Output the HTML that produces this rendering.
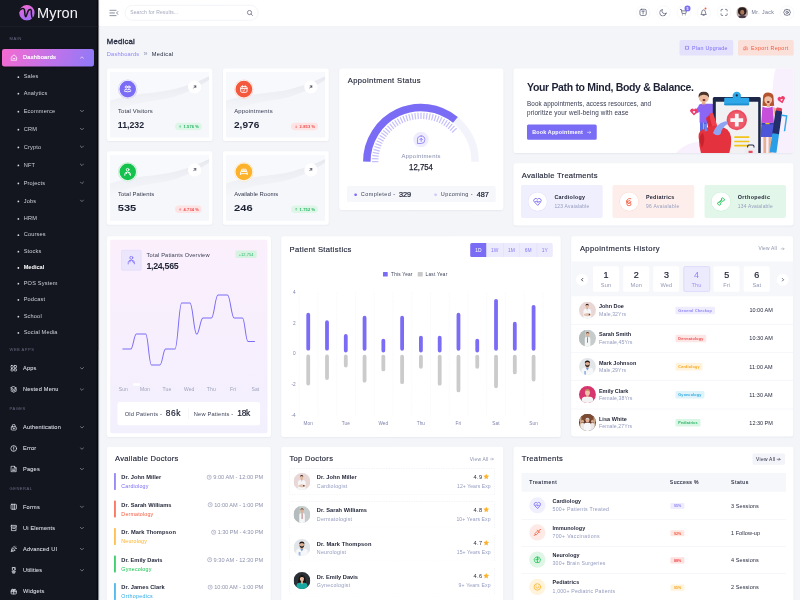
<!DOCTYPE html>
<html lang="en"><head><meta charset="utf-8"><title>Medical Dashboard - Myron</title>
<style>
html,body{margin:0;padding:0;}
body{width:800px;height:600px;overflow:hidden;background:#f3f5f9;font-family:"Liberation Sans",sans-serif;}
#app{position:absolute;left:0;top:0;width:3200px;height:2400px;overflow:hidden;background:#f3f5f9;transform:scale(0.25) rotate(0.004deg);transform-origin:0 0;}
.b{position:absolute;display:block;}
.t{position:absolute;line-height:1;white-space:nowrap;}
</style></head><body><div id="app">
<div class="b" style="left:394px;top:0px;width:2806px;height:106px;background:#ffffff;"></div>
<div class="b" style="left:394px;top:104.8px;width:2806px;height:2px;background:#eceef4;"></div>
<svg class="b" style="left:437.2px;top:37.2px;width:40px;height:29.6px;" viewBox="0 0 10 7.4"><path d="M0.5 1 H6.8 M0.5 3.7 H5.2 M0.5 6.4 H6.8 M8.6 2.3 L7.3 3.7 L8.6 5.1" fill="none" stroke="#4a4f68" stroke-width="0.65" stroke-linecap="round" stroke-linejoin="round"/></svg>
<div class="b" style="left:499.2px;top:20px;width:534.8px;height:61.6px;background:#ffffff;border-radius:32px;border:2px solid #e6e8f0;box-sizing:border-box;"></div>
<span class="t" style="top:39.8px;font-size:20px;color:#a3a8bd;letter-spacing:0.55px;left:520.8px;">Search for Results...</span>
<svg class="b" style="left:986px;top:37.6px;width:28px;height:28px;" viewBox="0 0 7 7"><circle cx="3" cy="3" r="2.1" fill="none" stroke="#4a4f68" stroke-width="0.65"/><path d="M4.6 4.6 L6 6" stroke="#4a4f68" stroke-width="0.65" stroke-linecap="round"/></svg>
<div class="b" style="left:2544.8px;top:21.6px;width:56px;height:56px;background:#ffffff;border-radius:28px;border:2px solid #eef0f5;box-sizing:border-box;"></div>
<svg class="b" style="left:2556.4px;top:33.2px;width:32.8px;height:32.8px;" viewBox="0 0 7 7"><g fill="none" stroke="#4a4f68" stroke-width="0.6" stroke-linecap="round" stroke-linejoin="round"><rect x="0.8" y="0.8" width="5.4" height="5.4" rx="1.4"/><path d="M2.4 2.4 H4.6 M3.5 2.4 V4.8"/></g></svg>
<div class="b" style="left:2625.6px;top:21.6px;width:56px;height:56px;background:#ffffff;border-radius:28px;border:2px solid #eef0f5;box-sizing:border-box;"></div>
<svg class="b" style="left:2637.2px;top:33.2px;width:32.8px;height:32.8px;" viewBox="0 0 7 7"><g fill="none" stroke="#4a4f68" stroke-width="0.6" stroke-linecap="round" stroke-linejoin="round"><path d="M5.9 4.3 A2.8 2.8 0 1 1 2.8 1 A2.3 2.3 0 0 0 5.9 4.3 Z"/></g></svg>
<div class="b" style="left:2706.8px;top:21.6px;width:56px;height:56px;background:#ffffff;border-radius:28px;border:2px solid #eef0f5;box-sizing:border-box;"></div>
<svg class="b" style="left:2718.4px;top:33.2px;width:32.8px;height:32.8px;" viewBox="0 0 7 7"><g fill="none" stroke="#4a4f68" stroke-width="0.6" stroke-linecap="round" stroke-linejoin="round"><path d="M0.7 1 H1.6 L2.2 4.4 H5.4 L5.9 2.2 H2 M2.5 5.6 V5.7 M5 5.6 V5.7"/></g></svg>
<div class="b" style="left:2786.8px;top:21.6px;width:56px;height:56px;background:#ffffff;border-radius:28px;border:2px solid #eef0f5;box-sizing:border-box;"></div>
<svg class="b" style="left:2798.4px;top:33.2px;width:32.8px;height:32.8px;" viewBox="0 0 7 7"><g fill="none" stroke="#4a4f68" stroke-width="0.6" stroke-linecap="round" stroke-linejoin="round"><path d="M1.4 5 Q2 4.3 2 3 A1.5 1.6 0 0 1 5 3 Q5 4.3 5.6 5 Z M3 6 H4"/></g></svg>
<div class="b" style="left:2868px;top:21.6px;width:56px;height:56px;background:#ffffff;border-radius:28px;border:2px solid #eef0f5;box-sizing:border-box;"></div>
<svg class="b" style="left:2879.6px;top:33.2px;width:32.8px;height:32.8px;" viewBox="0 0 7 7"><g fill="none" stroke="#4a4f68" stroke-width="0.6" stroke-linecap="round" stroke-linejoin="round"><path d="M0.9 2.3 V1.6 Q0.9 0.9 1.6 0.9 H2.3 M4.7 0.9 H5.4 Q6.1 0.9 6.1 1.6 V2.3 M6.1 4.7 V5.4 Q6.1 6.1 5.4 6.1 H4.7 M2.3 6.1 H1.6 Q0.9 6.1 0.9 5.4 V4.7"/></g></svg>
<div class="b" style="left:3120px;top:21.6px;width:56px;height:56px;background:#ffffff;border-radius:28px;border:2px solid #eef0f5;box-sizing:border-box;"></div>
<svg class="b" style="left:3131.6px;top:33.2px;width:32.8px;height:32.8px;" viewBox="0 0 7 7"><g fill="none" stroke="#4a4f68" stroke-width="0.6" stroke-linecap="round" stroke-linejoin="round"><circle cx="3.5" cy="3.5" r="1"/><path d="M3.5 0.8 L4.4 1.4 L5.5 1.3 L5.8 2.4 L6.4 3.5 L5.8 4.6 L5.5 5.7 L4.4 5.6 L3.5 6.2 L2.6 5.6 L1.5 5.7 L1.2 4.6 L0.6 3.5 L1.2 2.4 L1.5 1.3 L2.6 1.4 Z"/></g></svg>
<div class="b" style="left:2738.4px;top:21.6px;width:23.2px;height:23.2px;background:#7b6cf6;border-radius:12px;"></div>
<span class="t" style="top:26.2px;font-size:14.4px;color:#ffffff;font-weight:700;left:2350px;width:800px;text-align:center;">5</span>
<div class="b" style="left:2817.6px;top:29.6px;width:8.8px;height:8.8px;background:#f5593d;border-radius:8px;"></div>
<svg class="b" style="left:2944.8px;top:25.6px;width:48px;height:48px;" viewBox="0 0 12 12"><defs><clipPath id="avh"><circle cx="6" cy="6" r="6"/></clipPath></defs>
<g clip-path="url(#avh)"><rect width="12" height="12" fill="#b9a7a2"/><ellipse cx="6" cy="4.6" rx="4.3" ry="3.9" fill="#2a1d1c"/><ellipse cx="6" cy="5.6" rx="2.1" ry="2.5" fill="#a9745a"/><path d="M1.5 12 Q2 8.4 6 8.4 Q10 8.4 10.5 12 Z" fill="#4a3a4a"/></g></svg>
<span class="t" style="top:39.32px;font-size:20.8px;color:#6f7590;letter-spacing:1.67px;left:3006.4px;">Mr. Jack</span>
<div class="b" style="left:0px;top:0px;width:393.2px;height:2400px;background:#14161f;box-shadow:1.6px 0 6.4px rgba(20,22,40,0.35);border-right:6px solid #08090d;box-sizing:border-box;"></div>
<div class="b" style="left:0px;top:104.8px;width:394px;height:2px;background:#23252f;"></div>
<svg class="b" style="left:75.6px;top:19.2px;width:64px;height:64px;" viewBox="0 0 16 16"><defs><linearGradient id="lg" x1="0.3" y1="0" x2="0.6" y2="1"><stop offset="0" stop-color="#f06ad6"/><stop offset="1" stop-color="#a06cf6"/></linearGradient></defs>
<circle cx="7.9" cy="8" r="7.7" fill="url(#lg)"/>
<path d="M-0.2 6.6 C1.4 4 4.6 2.6 5.4 5 C6.1 7.4 5.6 11.6 6.7 11.9 C7.7 12.1 8.4 6.6 9.7 5.4 C11.1 4.1 12.4 4.5 12.4 6.6 C12.4 9 11.7 12 14.2 14.8" fill="none" stroke="#14161f" stroke-width="1.5" stroke-linecap="round"/></svg>
<span class="t" style="top:21.88px;font-size:58.4px;color:#f4f4f8;letter-spacing:0.35px;left:148px;">Myron</span>
<span class="t" style="top:145.8px;font-size:16.4px;color:#666a82;letter-spacing:1.74px;left:38.4px;">MAIN</span>
<div class="b" style="left:8px;top:196px;width:368px;height:70px;background:linear-gradient(112deg,#f56ad0 0%,#d071e2 38%,#b274ee 68%,#8c7bf9 100%);border-radius:8.8px;box-shadow:0 3.2px 6.4px rgba(0,0,0,0.45);"></div>
<svg class="b" style="left:42px;top:216px;width:28px;height:28px;" viewBox="0 0 7 7"><path d="M0.8 3.2 L3.5 0.8 L6.2 3.2 V6.2 H0.8 Z M2.4 4.4 Q3.5 5.3 4.6 4.4" fill="none" stroke="#fff" stroke-width="0.75" stroke-linejoin="round" stroke-linecap="round"/></svg>
<span class="t" style="top:217.4px;font-size:22.8px;color:#ffffff;letter-spacing:1.02px;left:91.6px;-webkit-text-stroke:0.88px #ffffff;">Dashboards</span>
<svg class="b" style="left:319.2px;top:223.2px;width:17.6px;height:14.4px;" viewBox="0 0 4.4 3.6"><path d="M0.6 2.6 L2.2 1 L3.8 2.6" fill="none" stroke="#ffffff" stroke-width="0.6" stroke-linecap="round" stroke-linejoin="round"/></svg>
<div class="b" style="left:69.6px;top:304.8px;width:7.2px;height:7.2px;background:#d5d7e0;border-radius:4px;"></div>
<span class="t" style="top:295.32px;font-size:22.4px;color:#cdd0db;letter-spacing:0.67px;left:94.8px;">Sales</span>
<div class="b" style="left:69.6px;top:370.8px;width:7.2px;height:7.2px;background:#d5d7e0;border-radius:4px;"></div>
<span class="t" style="top:361.32px;font-size:22.4px;color:#cdd0db;letter-spacing:0.6px;left:94.8px;">Analytics</span>
<div class="b" style="left:69.6px;top:442.8px;width:7.2px;height:7.2px;background:#d5d7e0;border-radius:4px;"></div>
<span class="t" style="top:433.32px;font-size:22.4px;color:#cdd0db;letter-spacing:0.8px;left:94.8px;">Ecommerce</span>
<svg class="b" style="left:319.2px;top:436.8px;width:17.6px;height:14.4px;" viewBox="0 0 4.4 3.6"><path d="M0.6 1 L2.2 2.6 L3.8 1" fill="none" stroke="#a9acba" stroke-width="0.6" stroke-linecap="round" stroke-linejoin="round"/></svg>
<div class="b" style="left:69.6px;top:514.8px;width:7.2px;height:7.2px;background:#d5d7e0;border-radius:4px;"></div>
<span class="t" style="top:505.32px;font-size:22.4px;color:#cdd0db;letter-spacing:1.02px;left:94.8px;">CRM</span>
<svg class="b" style="left:319.2px;top:508.8px;width:17.6px;height:14.4px;" viewBox="0 0 4.4 3.6"><path d="M0.6 1 L2.2 2.6 L3.8 1" fill="none" stroke="#a9acba" stroke-width="0.6" stroke-linecap="round" stroke-linejoin="round"/></svg>
<div class="b" style="left:69.6px;top:585.8px;width:7.2px;height:7.2px;background:#d5d7e0;border-radius:4px;"></div>
<span class="t" style="top:576.28px;font-size:22.4px;color:#cdd0db;letter-spacing:0.66px;left:94.8px;">Crypto</span>
<svg class="b" style="left:319.2px;top:579.8px;width:17.6px;height:14.4px;" viewBox="0 0 4.4 3.6"><path d="M0.6 1 L2.2 2.6 L3.8 1" fill="none" stroke="#a9acba" stroke-width="0.6" stroke-linecap="round" stroke-linejoin="round"/></svg>
<div class="b" style="left:69.6px;top:657.8px;width:7.2px;height:7.2px;background:#d5d7e0;border-radius:4px;"></div>
<span class="t" style="top:648.28px;font-size:22.4px;color:#cdd0db;letter-spacing:0.87px;left:94.8px;">NFT</span>
<svg class="b" style="left:319.2px;top:651.8px;width:17.6px;height:14.4px;" viewBox="0 0 4.4 3.6"><path d="M0.6 1 L2.2 2.6 L3.8 1" fill="none" stroke="#a9acba" stroke-width="0.6" stroke-linecap="round" stroke-linejoin="round"/></svg>
<div class="b" style="left:69.6px;top:729.8px;width:7.2px;height:7.2px;background:#d5d7e0;border-radius:4px;"></div>
<span class="t" style="top:720.28px;font-size:22.4px;color:#cdd0db;letter-spacing:0.61px;left:94.8px;">Projects</span>
<svg class="b" style="left:319.2px;top:723.8px;width:17.6px;height:14.4px;" viewBox="0 0 4.4 3.6"><path d="M0.6 1 L2.2 2.6 L3.8 1" fill="none" stroke="#a9acba" stroke-width="0.6" stroke-linecap="round" stroke-linejoin="round"/></svg>
<div class="b" style="left:69.6px;top:801.8px;width:7.2px;height:7.2px;background:#d5d7e0;border-radius:4px;"></div>
<span class="t" style="top:792.28px;font-size:22.4px;color:#cdd0db;letter-spacing:0.71px;left:94.8px;">Jobs</span>
<svg class="b" style="left:319.2px;top:795.8px;width:17.6px;height:14.4px;" viewBox="0 0 4.4 3.6"><path d="M0.6 1 L2.2 2.6 L3.8 1" fill="none" stroke="#a9acba" stroke-width="0.6" stroke-linecap="round" stroke-linejoin="round"/></svg>
<div class="b" style="left:69.6px;top:871.8px;width:7.2px;height:7.2px;background:#d5d7e0;border-radius:4px;"></div>
<span class="t" style="top:862.28px;font-size:22.4px;color:#cdd0db;letter-spacing:1.02px;left:94.8px;">HRM</span>
<div class="b" style="left:69.6px;top:936.8px;width:7.2px;height:7.2px;background:#d5d7e0;border-radius:4px;"></div>
<span class="t" style="top:927.28px;font-size:22.4px;color:#cdd0db;letter-spacing:0.72px;left:94.8px;">Courses</span>
<div class="b" style="left:69.6px;top:1002.8px;width:7.2px;height:7.2px;background:#d5d7e0;border-radius:4px;"></div>
<span class="t" style="top:993.28px;font-size:22.4px;color:#cdd0db;letter-spacing:0.67px;left:94.8px;">Stocks</span>
<div class="b" style="left:69.6px;top:1067.8px;width:7.2px;height:7.2px;background:#ffffff;border-radius:4px;"></div>
<span class="t" style="top:1058.28px;font-size:22.4px;color:#ffffff;font-weight:700;left:94.8px;">Medical</span>
<div class="b" style="left:69.6px;top:1130.8px;width:7.2px;height:7.2px;background:#d5d7e0;border-radius:4px;"></div>
<span class="t" style="top:1121.28px;font-size:22.4px;color:#cdd0db;letter-spacing:0.77px;left:94.8px;">POS System</span>
<div class="b" style="left:69.6px;top:1196px;width:7.2px;height:7.2px;background:#d5d7e0;border-radius:4px;"></div>
<span class="t" style="top:1186.48px;font-size:22.4px;color:#cdd0db;letter-spacing:0.69px;left:94.8px;">Podcast</span>
<div class="b" style="left:69.6px;top:1262.8px;width:7.2px;height:7.2px;background:#d5d7e0;border-radius:4px;"></div>
<span class="t" style="top:1253.28px;font-size:22.4px;color:#cdd0db;letter-spacing:0.68px;left:94.8px;">School</span>
<div class="b" style="left:69.6px;top:1327.8px;width:7.2px;height:7.2px;background:#d5d7e0;border-radius:4px;"></div>
<span class="t" style="top:1318.28px;font-size:22.4px;color:#cdd0db;letter-spacing:0.64px;left:94.8px;">Social Media</span>
<span class="t" style="top:1387.8px;font-size:16.4px;color:#666a82;letter-spacing:1.8px;left:38.4px;">WEB APPS</span>
<span class="t" style="top:1623.8px;font-size:16.4px;color:#666a82;letter-spacing:1.88px;left:38.4px;">PAGES</span>
<span class="t" style="top:1943.8px;font-size:16.4px;color:#666a82;letter-spacing:1.9px;left:38.4px;">GENERAL</span>
<svg class="b" style="left:41.2px;top:1459.4px;width:28px;height:28px;" viewBox="0 0 7 7"><g fill="none" stroke="#dcdee8" stroke-width="0.8" stroke-linecap="round" stroke-linejoin="round"><rect x="0.7" y="0.7" width="2.3" height="2.3" rx="0.6"/><rect x="4" y="0.7" width="2.3" height="2.3" rx="0.6"/><rect x="0.7" y="4" width="2.3" height="2.3" rx="0.6"/><rect x="4" y="4" width="2.3" height="2.3" rx="0.6"/></g></svg>
<span class="t" style="top:1462.28px;font-size:22.4px;color:#d3d6e0;letter-spacing:0.89px;left:92px;-webkit-text-stroke:0.4px #d3d6e0;">Apps</span>
<svg class="b" style="left:319.2px;top:1466.2px;width:17.6px;height:14.4px;" viewBox="0 0 4.4 3.6"><path d="M0.6 1 L2.2 2.6 L3.8 1" fill="none" stroke="#a9acba" stroke-width="0.6" stroke-linecap="round" stroke-linejoin="round"/></svg>
<svg class="b" style="left:41.2px;top:1544.4px;width:28px;height:28px;" viewBox="0 0 7 7"><g fill="none" stroke="#dcdee8" stroke-width="0.8" stroke-linecap="round" stroke-linejoin="round"><path d="M3.5 0.6 L6.3 2 L3.5 3.4 L0.7 2 Z M0.7 3.4 L3.5 4.8 L6.3 3.4 M0.7 4.8 L3.5 6.3 L6.3 4.8"/></g></svg>
<span class="t" style="top:1547.28px;font-size:22.4px;color:#d3d6e0;letter-spacing:0.85px;left:92px;-webkit-text-stroke:0.4px #d3d6e0;">Nested Menu</span>
<svg class="b" style="left:319.2px;top:1551.2px;width:17.6px;height:14.4px;" viewBox="0 0 4.4 3.6"><path d="M0.6 1 L2.2 2.6 L3.8 1" fill="none" stroke="#a9acba" stroke-width="0.6" stroke-linecap="round" stroke-linejoin="round"/></svg>
<svg class="b" style="left:41.2px;top:1695.4px;width:28px;height:28px;" viewBox="0 0 7 7"><g fill="none" stroke="#dcdee8" stroke-width="0.8" stroke-linecap="round" stroke-linejoin="round"><rect x="1" y="3" width="5" height="3.4" rx="0.8"/><path d="M2.1 3 V2 a1.4 1.4 0 0 1 2.8 0 V3"/><circle cx="3.5" cy="4.7" r="0.4"/></g></svg>
<span class="t" style="top:1698.28px;font-size:22.4px;color:#d3d6e0;letter-spacing:0.71px;left:92px;-webkit-text-stroke:0.4px #d3d6e0;">Authentication</span>
<svg class="b" style="left:319.2px;top:1702.2px;width:17.6px;height:14.4px;" viewBox="0 0 4.4 3.6"><path d="M0.6 1 L2.2 2.6 L3.8 1" fill="none" stroke="#a9acba" stroke-width="0.6" stroke-linecap="round" stroke-linejoin="round"/></svg>
<svg class="b" style="left:41.2px;top:1780px;width:28px;height:28px;" viewBox="0 0 7 7"><g fill="none" stroke="#dcdee8" stroke-width="0.8" stroke-linecap="round" stroke-linejoin="round"><circle cx="3.5" cy="3.5" r="2.9"/><path d="M3.5 1.9 V3.9 M3.5 4.9 V5.1"/></g></svg>
<span class="t" style="top:1782.88px;font-size:22.4px;color:#d3d6e0;letter-spacing:0.7px;left:92px;-webkit-text-stroke:0.4px #d3d6e0;">Error</span>
<svg class="b" style="left:319.2px;top:1786.8px;width:17.6px;height:14.4px;" viewBox="0 0 4.4 3.6"><path d="M0.6 1 L2.2 2.6 L3.8 1" fill="none" stroke="#a9acba" stroke-width="0.6" stroke-linecap="round" stroke-linejoin="round"/></svg>
<svg class="b" style="left:41.2px;top:1862.4px;width:28px;height:28px;" viewBox="0 0 7 7"><g fill="none" stroke="#dcdee8" stroke-width="0.8" stroke-linecap="round" stroke-linejoin="round"><path d="M1.2 0.7 H4.2 L5.9 2.4 V6.3 H1.2 Z M4.2 0.7 V2.4 H5.9 M2.3 3.6 H4.7 M2.3 4.9 H4.7"/></g></svg>
<span class="t" style="top:1865.28px;font-size:22.4px;color:#d3d6e0;letter-spacing:0.89px;left:92px;-webkit-text-stroke:0.4px #d3d6e0;">Pages</span>
<svg class="b" style="left:319.2px;top:1869.2px;width:17.6px;height:14.4px;" viewBox="0 0 4.4 3.6"><path d="M0.6 1 L2.2 2.6 L3.8 1" fill="none" stroke="#a9acba" stroke-width="0.6" stroke-linecap="round" stroke-linejoin="round"/></svg>
<svg class="b" style="left:41.2px;top:2013.4px;width:28px;height:28px;" viewBox="0 0 7 7"><g fill="none" stroke="#dcdee8" stroke-width="0.8" stroke-linecap="round" stroke-linejoin="round"><rect x="0.8" y="1" width="5.4" height="5" rx="0.7"/><path d="M2.7 1 V6 M4.4 1 V6"/></g></svg>
<span class="t" style="top:2016.28px;font-size:22.4px;color:#d3d6e0;letter-spacing:0.89px;left:92px;-webkit-text-stroke:0.4px #d3d6e0;">Forms</span>
<svg class="b" style="left:319.2px;top:2020.2px;width:17.6px;height:14.4px;" viewBox="0 0 4.4 3.6"><path d="M0.6 1 L2.2 2.6 L3.8 1" fill="none" stroke="#a9acba" stroke-width="0.6" stroke-linecap="round" stroke-linejoin="round"/></svg>
<svg class="b" style="left:41.2px;top:2098.4px;width:28px;height:28px;" viewBox="0 0 7 7"><g fill="none" stroke="#dcdee8" stroke-width="0.8" stroke-linecap="round" stroke-linejoin="round"><rect x="0.8" y="0.8" width="5.4" height="1.7" rx="0.4"/><path d="M1.2 2.5 V6.2 H5.8 V2.5 M2.6 3.9 H4.4"/></g></svg>
<span class="t" style="top:2101.32px;font-size:22.4px;color:#d3d6e0;letter-spacing:0.77px;left:92px;-webkit-text-stroke:0.4px #d3d6e0;">Ui Elements</span>
<svg class="b" style="left:319.2px;top:2105.2px;width:17.6px;height:14.4px;" viewBox="0 0 4.4 3.6"><path d="M0.6 1 L2.2 2.6 L3.8 1" fill="none" stroke="#a9acba" stroke-width="0.6" stroke-linecap="round" stroke-linejoin="round"/></svg>
<svg class="b" style="left:41.2px;top:2182.4px;width:28px;height:28px;" viewBox="0 0 7 7"><g fill="none" stroke="#dcdee8" stroke-width="0.8" stroke-linecap="round" stroke-linejoin="round"><path d="M1 5.8 L2.2 2.2 L4.6 4.6 Z M3.4 1.4 Q4.4 1 4.6 0.6 M5 2.8 Q5.8 2.4 6.4 2.8 M4.4 2.4 L5.4 1.4 M1.6 4.2 L2.8 5.2"/></g></svg>
<span class="t" style="top:2185.32px;font-size:22.4px;color:#d3d6e0;letter-spacing:0.82px;left:92px;-webkit-text-stroke:0.4px #d3d6e0;">Advanced UI</span>
<svg class="b" style="left:319.2px;top:2189.2px;width:17.6px;height:14.4px;" viewBox="0 0 4.4 3.6"><path d="M0.6 1 L2.2 2.6 L3.8 1" fill="none" stroke="#a9acba" stroke-width="0.6" stroke-linecap="round" stroke-linejoin="round"/></svg>
<svg class="b" style="left:41.2px;top:2267.4px;width:28px;height:28px;" viewBox="0 0 7 7"><g fill="none" stroke="#dcdee8" stroke-width="0.8" stroke-linecap="round" stroke-linejoin="round"><circle cx="3.5" cy="2.3" r="1.5"/><path d="M1.8 4.6 H5.2 M2.2 5.6 H4.8 M2.6 6.5 H4.4 M2 0.6 H5"/></g></svg>
<span class="t" style="top:2270.32px;font-size:22.4px;color:#d3d6e0;letter-spacing:0.56px;left:92px;-webkit-text-stroke:0.4px #d3d6e0;">Utilities</span>
<svg class="b" style="left:319.2px;top:2274.2px;width:17.6px;height:14.4px;" viewBox="0 0 4.4 3.6"><path d="M0.6 1 L2.2 2.6 L3.8 1" fill="none" stroke="#a9acba" stroke-width="0.6" stroke-linecap="round" stroke-linejoin="round"/></svg>
<svg class="b" style="left:41.2px;top:2351.4px;width:28px;height:28px;" viewBox="0 0 7 7"><g fill="none" stroke="#dcdee8" stroke-width="0.8" stroke-linecap="round" stroke-linejoin="round"><rect x="0.9" y="2.4" width="5.2" height="3.9" rx="0.6"/><path d="M0.9 3.9 H6.1 M3.5 2.4 V6.3 M3.5 2.4 Q2 0.4 1.8 1.6 Q1.8 2.4 3.5 2.4 Q5 0.4 5.2 1.6 Q5.2 2.4 3.5 2.4"/></g></svg>
<span class="t" style="top:2354.32px;font-size:22.4px;color:#d3d6e0;letter-spacing:0.81px;left:92px;-webkit-text-stroke:0.4px #d3d6e0;">Widgets</span>
<span class="t" style="top:150.92px;font-size:30.8px;color:#262a3f;letter-spacing:0.95px;left:427.2px;-webkit-text-stroke:1.28px #262a3f;">Medical</span>
<span class="t" style="top:203.8px;font-size:22.8px;color:#8f84f5;letter-spacing:0.74px;left:427.2px;">Dashboards</span>
<span class="t" style="top:198px;font-size:28.8px;color:#8f95b0;left:574.4px;">»</span>
<span class="t" style="top:203.8px;font-size:22.8px;color:#262a3f;letter-spacing:1.12px;left:607.2px;">Medical</span>
<div class="b" style="left:2718.4px;top:160px;width:214.4px;height:62.4px;background:#e4e1fc;border-radius:6.4px;"></div>
<svg class="b" style="left:2738.4px;top:181.2px;width:20px;height:20px;" viewBox="0 0 5 5"><rect x="1" y="1" width="3" height="3" fill="none" stroke="#7b6cf6" stroke-width="0.6"/><path d="M0.3 1.6 H1 M0.3 3.4 H1 M4 1.6 H4.7 M4 3.4 H4.7" stroke="#7b6cf6" stroke-width="0.5"/></svg>
<span class="t" style="top:180.72px;font-size:21.2px;color:#7b6cf6;letter-spacing:1.13px;left:2768px;">Plan Upgrade</span>
<div class="b" style="left:2951.6px;top:160px;width:223.2px;height:62.4px;background:#fbdfd9;border-radius:6.4px;"></div>
<svg class="b" style="left:2972px;top:180.8px;width:20.8px;height:20.8px;" viewBox="0 0 5.2 5.2"><path d="M1.2 4.6 H4 A1.1 1.1 0 0 0 4.2 2.5 A1.7 1.7 0 0 0 0.9 2.6 A1 1 0 0 0 1.2 4.6 Z M2.6 4 V2.6 M2 3.1 L2.6 2.5 L3.2 3.1" fill="none" stroke="#f5593d" stroke-width="0.5" stroke-linecap="round" stroke-linejoin="round"/></svg>
<span class="t" style="top:180.72px;font-size:21.2px;color:#f5593d;letter-spacing:1.54px;left:3004px;">Export Report</span>
<div class="b" style="left:427px;top:274px;width:423px;height:289.6px;background:#ffffff;border-radius:8.8px;box-shadow:0 2.4px 7.2px rgba(30,40,90,0.07);"></div>
<svg class="b" style="left:439.8px;top:286.8px;width:397.6px;height:264px" viewBox="0 0 99.4 66.00"><defs><clipPath id="ic10668"><rect width="99.4" height="66.00" rx="1.8"/></clipPath><linearGradient id="wg10668" x1="0.45" y1="0" x2="0.55" y2="1"><stop offset="0" stop-color="#e6e8ef"/><stop offset="0.5" stop-color="#eff0f5"/><stop offset="1" stop-color="#f6f7fa"/></linearGradient></defs><g clip-path="url(#ic10668)"><rect width="99.4" height="66.00" fill="#f8f9fc"/><path d="M0 30 C20 23 46 23.5 64 18.5 C80 14 92 8.5 99.4 4.5 L99.4 66.1 L0 66.1 Z" fill="#f6f7fa"/><path d="M0 29 C22 21 48 22 66 17 C82 12.5 92 8 99.4 4.5 L99.4 8 C90 14 80 20 64 25 C46 30 22 30 0 41 Z" fill="url(#wg10668)"/></g></svg>
<div class="b" style="left:472px;top:317.6px;width:77.6px;height:77.6px;background:#d6d1fb;border-radius:40px;"></div>
<div class="b" style="left:474.8px;top:320.4px;width:72px;height:72px;background:#fbfbfe;border-radius:40px;"></div>
<div class="b" style="left:477.6px;top:323.2px;width:66.4px;height:66.4px;background:#7b6cf6;border-radius:40px;"></div>
<svg class="b" style="left:493.2px;top:338.8px;width:35.2px;height:35.2px;" viewBox="0 0 7.2 7.2"><g fill="none" stroke="#fff" stroke-width="0.75" stroke-linecap="round" stroke-linejoin="round"><circle cx="2.5" cy="1.9" r="0.9"/><circle cx="4.7" cy="1.9" r="0.9"/><path d="M1.2 4.2 Q2.5 2.9 3.6 4.2 Q4.7 2.9 6 4.2 M0.9 5.2 Q3.6 6.6 6.3 5.2"/></g></svg>
<div class="b" style="left:752.4px;top:321.6px;width:52.8px;height:52.8px;background:#ffffff;border-radius:28px;"></div>
<svg class="b" style="left:770.8px;top:340px;width:16px;height:16px;" viewBox="0 0 4 4"><path d="M0.9 3.1 L3.1 0.9 M1.4 0.9 H3.1 V2.6" fill="none" stroke="#262a3f" stroke-width="0.7" stroke-linecap="round" stroke-linejoin="round"/></svg>
<span class="t" style="top:432.2px;font-size:23.6px;color:#33384e;letter-spacing:0.42px;left:472.2px;">Total Visitors</span>
<span class="t" style="top:477.68px;font-size:39.2px;color:#1e2235;font-weight:700;left:471.4px;transform:scaleX(0.894);transform-origin:0 0;">11,232</span>
<div class="b" style="left:699.8px;top:490.8px;width:107.6px;height:30.4px;background:#def6e8;border-radius:16px;"></div>
<svg class="b" style="left:715.8px;top:500.8px;width:9.6px;height:11.2px;" viewBox="0 0 2.4 2.8"><path d="M1.2 2.3 V0.5 M0.4 1.2 L1.2 0.4 L2 1.2" fill="none" stroke="#22b35f" stroke-width="0.45" stroke-linecap="round" stroke-linejoin="round"/></svg>
<span class="t" style="top:499.28px;font-size:16px;color:#22b35f;font-weight:700;letter-spacing:0.53px;left:733.8px;">1.576 %</span>
<div class="b" style="left:891.6px;top:274px;width:423px;height:289.6px;background:#ffffff;border-radius:8.8px;box-shadow:0 2.4px 7.2px rgba(30,40,90,0.07);"></div>
<svg class="b" style="left:904.4px;top:286.8px;width:397.6px;height:264px" viewBox="0 0 99.4 66.00"><defs><clipPath id="ic22268"><rect width="99.4" height="66.00" rx="1.8"/></clipPath><linearGradient id="wg22268" x1="0.45" y1="0" x2="0.55" y2="1"><stop offset="0" stop-color="#e6e8ef"/><stop offset="0.5" stop-color="#eff0f5"/><stop offset="1" stop-color="#f6f7fa"/></linearGradient></defs><g clip-path="url(#ic22268)"><rect width="99.4" height="66.00" fill="#f8f9fc"/><path d="M0 30 C20 23 46 23.5 64 18.5 C80 14 92 8.5 99.4 4.5 L99.4 66.1 L0 66.1 Z" fill="#f6f7fa"/><path d="M0 29 C22 21 48 22 66 17 C82 12.5 92 8 99.4 4.5 L99.4 8 C90 14 80 20 64 25 C46 30 22 30 0 41 Z" fill="url(#wg22268)"/></g></svg>
<div class="b" style="left:936.6px;top:317.6px;width:77.6px;height:77.6px;background:#fbd3ca;border-radius:40px;"></div>
<div class="b" style="left:939.4px;top:320.4px;width:72px;height:72px;background:#fbfbfe;border-radius:40px;"></div>
<div class="b" style="left:942.2px;top:323.2px;width:66.4px;height:66.4px;background:#f5593d;border-radius:40px;"></div>
<svg class="b" style="left:957.8px;top:338.8px;width:35.2px;height:35.2px;" viewBox="0 0 7.2 7.2"><g fill="none" stroke="#fff" stroke-width="0.75" stroke-linecap="round" stroke-linejoin="round"><rect x="1" y="1.4" width="5.2" height="4.8" rx="1"/><path d="M1 3 H6.2 M2.5 0.8 V2 M4.7 0.8 V2 M2.7 4.5 L3.3 5.1 L4.5 3.9"/></g></svg>
<div class="b" style="left:1217px;top:321.6px;width:52.8px;height:52.8px;background:#ffffff;border-radius:28px;"></div>
<svg class="b" style="left:1235.4px;top:340px;width:16px;height:16px;" viewBox="0 0 4 4"><path d="M0.9 3.1 L3.1 0.9 M1.4 0.9 H3.1 V2.6" fill="none" stroke="#262a3f" stroke-width="0.7" stroke-linecap="round" stroke-linejoin="round"/></svg>
<span class="t" style="top:432.2px;font-size:23.6px;color:#33384e;letter-spacing:0.87px;left:936.8px;">Appointments</span>
<span class="t" style="top:477.68px;font-size:39.2px;color:#1e2235;font-weight:700;left:936px;transform:scaleX(1.032);transform-origin:0 0;">2,976</span>
<div class="b" style="left:1164.4px;top:490.8px;width:107.6px;height:30.4px;background:#fde3e3;border-radius:16px;"></div>
<svg class="b" style="left:1180.4px;top:500.8px;width:9.6px;height:11.2px;" viewBox="0 0 2.4 2.8"><path d="M1.2 0.4 V2.2 M0.4 1.5 L1.2 2.3 L2 1.5" fill="none" stroke="#ef4a4a" stroke-width="0.45" stroke-linecap="round" stroke-linejoin="round"/></svg>
<span class="t" style="top:499.28px;font-size:16px;color:#ef4a4a;font-weight:700;letter-spacing:0.53px;left:1198.4px;">2.853 %</span>
<div class="b" style="left:427px;top:605.2px;width:423px;height:293.6px;background:#ffffff;border-radius:8.8px;box-shadow:0 2.4px 7.2px rgba(30,40,90,0.07);"></div>
<svg class="b" style="left:439.8px;top:618px;width:397.6px;height:268px" viewBox="0 0 99.4 67.00"><defs><clipPath id="ic106151"><rect width="99.4" height="67.00" rx="1.8"/></clipPath><linearGradient id="wg106151" x1="0.45" y1="0" x2="0.55" y2="1"><stop offset="0" stop-color="#e6e8ef"/><stop offset="0.5" stop-color="#eff0f5"/><stop offset="1" stop-color="#f6f7fa"/></linearGradient></defs><g clip-path="url(#ic106151)"><rect width="99.4" height="67.00" fill="#f8f9fc"/><path d="M0 30 C20 23 46 23.5 64 18.5 C80 14 92 8.5 99.4 4.5 L99.4 66.1 L0 66.1 Z" fill="#f6f7fa"/><path d="M0 29 C22 21 48 22 66 17 C82 12.5 92 8 99.4 4.5 L99.4 8 C90 14 80 20 64 25 C46 30 22 30 0 41 Z" fill="url(#wg106151)"/></g></svg>
<div class="b" style="left:472px;top:648.8px;width:77.6px;height:77.6px;background:#c2edcf;border-radius:40px;"></div>
<div class="b" style="left:474.8px;top:651.6px;width:72px;height:72px;background:#fbfbfe;border-radius:40px;"></div>
<div class="b" style="left:477.6px;top:654.4px;width:66.4px;height:66.4px;background:#16c24e;border-radius:40px;"></div>
<svg class="b" style="left:493.2px;top:670px;width:35.2px;height:35.2px;" viewBox="0 0 7.2 7.2"><g fill="none" stroke="#fff" stroke-width="0.75" stroke-linecap="round" stroke-linejoin="round"><circle cx="3.6" cy="1.8" r="1.1"/><path d="M1.3 6.4 V5.4 Q1.3 3.8 3.6 3.8 Q5.9 3.8 5.9 5.4 V6.4 M2.6 4 V5 M4.6 4 V4.8 Q5.2 5 5.2 5.6"/></g></svg>
<div class="b" style="left:752.4px;top:652.8px;width:52.8px;height:52.8px;background:#ffffff;border-radius:28px;"></div>
<svg class="b" style="left:770.8px;top:671.2px;width:16px;height:16px;" viewBox="0 0 4 4"><path d="M0.9 3.1 L3.1 0.9 M1.4 0.9 H3.1 V2.6" fill="none" stroke="#262a3f" stroke-width="0.7" stroke-linecap="round" stroke-linejoin="round"/></svg>
<span class="t" style="top:763.4px;font-size:23.6px;color:#33384e;letter-spacing:0.22px;left:472.2px;">Total Patients</span>
<span class="t" style="top:808.88px;font-size:39.2px;color:#1e2235;font-weight:700;left:471.4px;transform:scaleX(1.131);transform-origin:0 0;">535</span>
<div class="b" style="left:699.8px;top:822px;width:107.6px;height:30.4px;background:#fde3e3;border-radius:16px;"></div>
<svg class="b" style="left:715.8px;top:832px;width:9.6px;height:11.2px;" viewBox="0 0 2.4 2.8"><path d="M1.2 0.4 V2.2 M0.4 1.5 L1.2 2.3 L2 1.5" fill="none" stroke="#ef4a4a" stroke-width="0.45" stroke-linecap="round" stroke-linejoin="round"/></svg>
<span class="t" style="top:830.48px;font-size:16px;color:#ef4a4a;font-weight:700;letter-spacing:0.53px;left:733.8px;">4.734 %</span>
<div class="b" style="left:891.6px;top:605.2px;width:423px;height:293.6px;background:#ffffff;border-radius:8.8px;box-shadow:0 2.4px 7.2px rgba(30,40,90,0.07);"></div>
<svg class="b" style="left:904.4px;top:618px;width:397.6px;height:268px" viewBox="0 0 99.4 67.00"><defs><clipPath id="ic222151"><rect width="99.4" height="67.00" rx="1.8"/></clipPath><linearGradient id="wg222151" x1="0.45" y1="0" x2="0.55" y2="1"><stop offset="0" stop-color="#e6e8ef"/><stop offset="0.5" stop-color="#eff0f5"/><stop offset="1" stop-color="#f6f7fa"/></linearGradient></defs><g clip-path="url(#ic222151)"><rect width="99.4" height="67.00" fill="#f8f9fc"/><path d="M0 30 C20 23 46 23.5 64 18.5 C80 14 92 8.5 99.4 4.5 L99.4 66.1 L0 66.1 Z" fill="#f6f7fa"/><path d="M0 29 C22 21 48 22 66 17 C82 12.5 92 8 99.4 4.5 L99.4 8 C90 14 80 20 64 25 C46 30 22 30 0 41 Z" fill="url(#wg222151)"/></g></svg>
<div class="b" style="left:936.6px;top:648.8px;width:77.6px;height:77.6px;background:#fce6b8;border-radius:40px;"></div>
<div class="b" style="left:939.4px;top:651.6px;width:72px;height:72px;background:#fbfbfe;border-radius:40px;"></div>
<div class="b" style="left:942.2px;top:654.4px;width:66.4px;height:66.4px;background:#fdb22b;border-radius:40px;"></div>
<svg class="b" style="left:957.8px;top:670px;width:35.2px;height:35.2px;" viewBox="0 0 7.2 7.2"><g fill="none" stroke="#fff" stroke-width="0.75" stroke-linecap="round" stroke-linejoin="round"><path d="M0.9 5.8 V3.8 Q0.9 3.2 1.5 3.2 H5.7 Q6.3 3.2 6.3 3.8 V5.8 M0.9 5 H6.3 M1.6 3.2 V2 Q1.6 1.4 2.2 1.4 H5 Q5.6 1.4 5.6 2 V3.2 M2.4 3.2 V2.6 H4.8 V3.2"/></g></svg>
<div class="b" style="left:1217px;top:652.8px;width:52.8px;height:52.8px;background:#ffffff;border-radius:28px;"></div>
<svg class="b" style="left:1235.4px;top:671.2px;width:16px;height:16px;" viewBox="0 0 4 4"><path d="M0.9 3.1 L3.1 0.9 M1.4 0.9 H3.1 V2.6" fill="none" stroke="#262a3f" stroke-width="0.7" stroke-linecap="round" stroke-linejoin="round"/></svg>
<span class="t" style="top:763.4px;font-size:23.6px;color:#33384e;letter-spacing:-0.02px;left:936.8px;">Available Rooms</span>
<span class="t" style="top:808.88px;font-size:39.2px;color:#1e2235;font-weight:700;left:936px;transform:scaleX(1.138);transform-origin:0 0;">246</span>
<div class="b" style="left:1164.4px;top:822px;width:107.6px;height:30.4px;background:#def6e8;border-radius:16px;"></div>
<svg class="b" style="left:1180.4px;top:832px;width:9.6px;height:11.2px;" viewBox="0 0 2.4 2.8"><path d="M1.2 2.3 V0.5 M0.4 1.2 L1.2 0.4 L2 1.2" fill="none" stroke="#22b35f" stroke-width="0.45" stroke-linecap="round" stroke-linejoin="round"/></svg>
<span class="t" style="top:830.48px;font-size:16px;color:#22b35f;font-weight:700;letter-spacing:0.53px;left:1198.4px;">1.752 %</span>
<div class="b" style="left:1356.8px;top:274px;width:657.2px;height:566px;background:#ffffff;border-radius:8.8px;box-shadow:0 2.4px 7.2px rgba(30,40,90,0.07);"></div>
<span class="t" style="top:305.8px;font-size:30.4px;color:#1e2235;letter-spacing:1.55px;left:1390.8px;-webkit-text-stroke:0.6px #1e2235;">Appointment Status</span>
<svg class="b" style="left:0px;top:0px;width:3200px;height:2400px" viewBox="0 0 800 600"><path d="M366.85 161.60 A54.15 54.15 0 0 1 475.15 161.60" fill="none" stroke="#f3f3fb" stroke-width="7.5"/><path d="M366.85 161.60 A54.15 54.15 0 0 1 455.44 119.82" fill="none" stroke="#7b6cf6" stroke-width="7.5"/><path d="M378.40 161.60 L372.00 161.60 M378.48 158.93 L372.10 158.52 M378.74 156.26 L372.39 155.46 M379.15 153.62 L372.87 152.42 M379.74 151.01 L373.54 149.41 M380.48 148.44 L374.40 146.46 M381.39 145.92 L375.44 143.56 M382.45 143.46 L376.66 140.74 M383.67 141.08 L378.06 137.99 M385.03 138.77 L379.63 135.34 M386.54 136.56 L381.36 132.80 M388.18 134.45 L383.24 130.37 M389.95 132.44 L385.28 128.06 M391.84 130.55 L387.46 125.88 M393.85 128.78 L389.77 123.84 M395.96 127.14 L392.20 121.96 M398.17 125.63 L394.74 120.23 M400.48 124.27 L397.39 118.66 M402.86 123.05 L400.14 117.26 M405.32 121.99 L402.96 116.04 M407.84 121.08 L405.86 115.00 M410.41 120.34 L408.81 114.14 M413.02 119.75 L411.82 113.47 M415.66 119.34 L414.86 112.99 M418.33 119.08 L417.92 112.70 M421.00 119.00 L421.00 112.60 M423.67 119.08 L424.08 112.70 M426.34 119.34 L427.14 112.99 M428.98 119.75 L430.18 113.47 M431.59 120.34 L433.19 114.14 M434.16 121.08 L436.14 115.00 M436.68 121.99 L439.04 116.04 M439.14 123.05 L441.86 117.26 M441.52 124.27 L444.61 118.66 M443.83 125.63 L447.26 120.23 M446.04 127.14 L449.80 121.96 M448.15 128.78 L452.23 123.84 M450.16 130.55 L454.54 125.88 M452.05 132.44 L456.72 128.06 " stroke="#c6c0fa" stroke-width="1.25" fill="none"/></svg>
<div class="b" style="left:1653.2px;top:527.2px;width:61.6px;height:61.6px;background:#efedfd;border-radius:32px;"></div>
<svg class="b" style="left:1665.6px;top:540px;width:37.6px;height:37.6px;" viewBox="0 0 7 7"><path d="M3.5 0.7 A2.8 2.8 0 1 1 3.5 6.3 H0.7 V3.5 A2.8 2.8 0 0 1 3.5 0.7 Z M3.5 4.7 V2.5 M2.5 3.5 L3.5 2.5 L4.5 3.5" fill="none" stroke="#7b6cf6" stroke-width="0.55" stroke-linecap="round" stroke-linejoin="round"/></svg>
<span class="t" style="top:610.6px;font-size:23.6px;color:#858baa;letter-spacing:1.07px;left:1284.8px;width:800px;text-align:center;">Appointments</span>
<span class="t" style="top:651.4px;font-size:34px;color:#1e2235;left:1284px;width:800px;text-align:center;-webkit-text-stroke:1px #1e2235;transform:scaleX(0.919);transform-origin:50% 0;">12,754</span>
<div class="b" style="left:1388px;top:744px;width:594.8px;height:64px;background:#f6f7fb;border-radius:6.4px;"></div>
<div class="b" style="left:1417.2px;top:773.6px;width:10.4px;height:10.4px;background:#7b6cf6;border-radius:8px;"></div>
<span class="t" style="top:766.28px;font-size:22px;color:#3a3f55;letter-spacing:1.69px;left:1443.2px;">Completed -</span>
<span class="t" style="top:762.88px;font-size:28px;color:#1e2235;left:1596px;-webkit-text-stroke:0.88px #1e2235;transform:scaleX(1.045);transform-origin:0 0;">329</span>
<div class="b" style="left:1737.2px;top:773.6px;width:10.4px;height:10.4px;background:#cdc8fa;border-radius:8px;"></div>
<span class="t" style="top:766.28px;font-size:22px;color:#3a3f55;letter-spacing:1.63px;left:1763.2px;">Upcoming -</span>
<span class="t" style="top:762.88px;font-size:28px;color:#1e2235;left:1907.2px;-webkit-text-stroke:0.88px #1e2235;transform:scaleX(1.045);transform-origin:0 0;">487</span>
<div class="b" style="left:2054px;top:274px;width:1119.6px;height:338px;background:#ffffff;border-radius:8.8px;box-shadow:0 2.4px 7.2px rgba(30,40,90,0.07);"></div>
<svg class="b" style="left:0px;top:0px;width:3200px;height:2400px" viewBox="0 0 800 600"><defs><clipPath id="hc"><rect x="513.5" y="68.5" width="279.9" height="84.5" rx="2.2"/></clipPath></defs>
<g clip-path="url(#hc)">
<path d="M794 68 H776 C772 78 774 96 768 112 C762 130 740 138 712 140 C694 141 684 144 676 153 H794 Z" fill="#f9f0fd"/>
<!-- man -->
<rect x="700" y="121" width="3.2" height="17" fill="#5a6be6"/><rect x="703.6" y="121" width="3.2" height="17" fill="#4b5bd8"/>
<path d="M698.4 106.5 Q698.4 103.6 702 103.6 H712 Q714 103.6 714 106 V122.6 H699.6 V112 L695.6 113.6 L694.6 111 Z" fill="#8b65f3"/>
<rect x="702" y="100" width="3.4" height="4.5" fill="#e2a98b"/>
<circle cx="703.8" cy="97.6" r="5" fill="#ecba9d"/>
<path d="M698.6 97.4 Q698 91.4 704 91.6 Q709.6 91.6 709 97.4 Q707.6 94.6 703.8 94.8 Q700 94.6 698.6 97.4 Z" fill="#4a342c"/>
<ellipse cx="704" cy="100" rx="1.5" ry="1.1" fill="#7a2f2a"/>
<!-- small heart left -->
<path d="M694 115.4 L690.4 111.8 A2.1 2.1 0 0 1 694 109.6 A2.1 2.1 0 0 1 697.6 111.8 Z" fill="#ee3d6a"/>
<path d="M694 113.2 L692.9 112.1 A0.62 0.62 0 0 1 694 111.4 A0.62 0.62 0 0 1 695.1 112.1 Z" fill="#fff"/>
<!-- clipboard -->
<rect x="712.8" y="97" width="48" height="60" rx="1.5" fill="#1d2848"/>
<rect x="715.8" y="101.6" width="42.4" height="56" fill="#f1f1f4"/>
<circle cx="736.8" cy="96" r="4.2" fill="#2ea8e8"/><circle cx="736.8" cy="95.4" r="1.1" fill="#1d2848"/>
<rect x="724.2" y="97.6" width="25" height="7.6" rx="1.2" fill="#2ea8e8"/>
<rect x="724.2" y="103.4" width="25" height="1.8" rx="0.8" fill="#1f8fd0"/>
<circle cx="736.8" cy="120" r="10.2" fill="#ea4b5e"/>
<circle cx="736.8" cy="120" r="8.6" fill="#ef5a6a"/>
<path d="M734.9 113.6 H738.7 V118.1 H743.2 V121.9 H738.7 V126.4 H734.9 V121.9 H730.4 V118.1 H734.9 Z" fill="#f6f4f6"/>
<rect x="734.2" y="136.3" width="15.2" height="1.6" rx="0.6" fill="#f2c418"/>
<rect x="734.2" y="140.6" width="15.2" height="1.6" rx="0.6" fill="#f2c418"/>
<rect x="734.2" y="144.8" width="15.2" height="1.6" rx="0.6" fill="#f2c418"/>
<!-- bag -->
<path d="M747.6 148 V146.4 Q747.6 145 749 145 H752.6 Q754 145 754 146.4 V148" fill="none" stroke="#1d2848" stroke-width="1"/>
<rect x="744.6" y="147.4" width="12.6" height="8" rx="1" fill="#ececf1"/>
<rect x="748.6" y="150.6" width="4" height="3" fill="#e94b5e"/>
<!-- anatomical heart -->
<path d="M706 118 L710.6 114 L716 128 L709 131 Z" fill="#d92a38"/>
<path d="M709 113.6 L713 112.6 L718 128 L713 130 Z" fill="#f0424c"/>
<path d="M699 140 Q697 130 705 128.6 Q712 124 720 127 Q729 127 731 137 Q732 148 728 156 H702 Q699 148 699 140 Z" fill="#e4323f"/>
<path d="M699.6 141 Q699 135 703 133 Q706 140 702 148 Z" fill="#c9222f"/>
<path d="M713 133 Q716 124 724 121.6 Q728 120 727.6 124 Q722 127 720.6 134 Q717 137 713 133 Z" fill="#8ea4f2"/>
<path d="M704 124 L706.4 123.6 L707.6 131 L704.8 131.4 Z" fill="#6f86e6"/>
<!-- woman -->
<rect x="763.4" y="136" width="2.8" height="18" fill="#e6b092"/><rect x="768.6" y="136" width="2.8" height="18" fill="#e6b092"/>
<path d="M761.4 124 H774 L775 137 H760.6 Z" fill="#4d56d8"/>
<rect x="761.4" y="122.4" width="12.6" height="2" fill="#3a41b8"/><rect x="765.4" y="122.5" width="4.2" height="1.8" fill="#f2c418"/>
<path d="M762.4 106.4 Q767.6 109 772.6 106.4 L774 122.6 H761.2 Z" fill="#c650da"/>
<path d="M773 107 L776.4 108.4 L778.6 121 L776.8 121.4 L773.6 112 Z" fill="#e6b092"/>
<path d="M763 98 Q762.6 92.4 768.2 92.4 Q774 92.4 773.6 98.6 L774.2 105.6 L771.6 106 L764.6 106 L762.4 105.6 Z" fill="#b4552f"/>
<ellipse cx="768.2" cy="99.6" rx="3.9" ry="4.6" fill="#efc0a3"/>
<path d="M764.2 98.4 Q764.6 94.6 768.4 94.6 Q772.2 94.6 772.4 98.6 Q770 96 768.2 96.2 Q766 96 764.2 98.4 Z" fill="#b4552f"/>
<ellipse cx="768.3" cy="102" rx="1.4" ry="1" fill="#8a2f2a"/>
<rect x="766.8" y="103.6" width="3" height="3.4" fill="#e6b092"/>
<!-- pen -->
<g transform="rotate(8 776 130)">
<rect x="773.2" y="107.4" width="6" height="4.4" rx="1.4" fill="#e3405a"/>
<rect x="772.8" y="110.6" width="6.8" height="24" rx="1" fill="#232f6c"/>
<rect x="772.8" y="133.6" width="6.8" height="19" rx="1" fill="#2a9fe8"/>
<path d="M779.6 114.6 H784.6 V130" fill="none" stroke="#35a9ee" stroke-width="1.5"/>
</g>
<!-- heart top right -->
<g transform="rotate(-14 781.4 99)"><path d="M781.4 103.2 L778 99.6 A2 2 0 0 1 781.4 97.4 A2 2 0 0 1 784.8 99.6 Z" fill="#ee3d6a"/>
<path d="M781.4 101 L780.4 100 A0.58 0.58 0 0 1 781.4 99.3 A0.58 0.58 0 0 1 782.4 100 Z" fill="#fff"/></g>
</g></svg>
<span class="t" style="top:330.12px;font-size:42px;color:#1e2235;font-weight:700;letter-spacing:-1.31px;left:2108px;">Your Path to Mind, Body &amp; Balance.</span>
<span class="t" style="top:401.4px;font-size:25.2px;color:#33384e;letter-spacing:0.38px;left:2108px;">Book appointments, access resources, and</span>
<span class="t" style="top:439.4px;font-size:25.2px;color:#33384e;letter-spacing:0.61px;left:2108px;">prioritize your well-being with ease</span>
<div class="b" style="left:2108px;top:498px;width:279px;height:61px;background:#7b6cf6;border-radius:6px;"></div>
<span class="t" style="top:518.12px;font-size:21.6px;color:#ffffff;font-weight:700;letter-spacing:0.68px;left:2128.8px;">Book Appointment</span>
<svg class="b" style="left:2348px;top:521.6px;width:17.6px;height:14.4px;" viewBox="0 0 4.4 3.6"><path d="M0.5 1.8 H3.8 M2.6 0.6 L3.8 1.8 L2.6 3" fill="none" stroke="#fff" stroke-width="0.55" stroke-linecap="round" stroke-linejoin="round"/></svg>
<div class="b" style="left:2054px;top:653px;width:1120.4px;height:249px;background:#ffffff;border-radius:8.8px;box-shadow:0 2.4px 7.2px rgba(30,40,90,0.07);"></div>
<span class="t" style="top:685px;font-size:30.4px;color:#1e2235;letter-spacing:1.03px;left:2087px;-webkit-text-stroke:0.6px #1e2235;">Available Treatments</span>
<div class="b" style="left:2084px;top:740px;width:326.8px;height:132px;background:#f0effe;border-radius:7.2px;"></div>
<div class="b" style="left:2111.6px;top:767.6px;width:77.6px;height:77.6px;background:#ffffff;border-radius:40px;border:1.8px solid #7b6cf644;box-sizing:border-box;"></div>
<svg class="b" style="left:2130.4px;top:786.4px;width:40px;height:40px;" viewBox="0 0 7 7"><g fill="none" stroke="#7b6cf6" stroke-width="0.62" stroke-linecap="round" stroke-linejoin="round"><path d="M3.5 6 L1.2 3.7 A1.45 1.45 0 0 1 3.5 1.9 A1.45 1.45 0 0 1 5.8 3.7 Z M1.9 3.6 H2.8 L3.2 2.9 L3.8 4.3 L4.2 3.6 H5.1"/></g></svg>
<span class="t" style="top:778.92px;font-size:21.6px;color:#1e2235;font-weight:700;letter-spacing:1.12px;left:2217.6px;">Cardiology</span>
<span class="t" style="top:813.6px;font-size:19.6px;color:#949bbf;letter-spacing:0.94px;left:2217.6px;">123 Avaialable</span>
<div class="b" style="left:2450px;top:740px;width:326.8px;height:132px;background:#fdeeeb;border-radius:7.2px;"></div>
<div class="b" style="left:2477.6px;top:767.6px;width:77.6px;height:77.6px;background:#ffffff;border-radius:40px;border:1.8px solid #f5593d44;box-sizing:border-box;"></div>
<svg class="b" style="left:2496.4px;top:786.4px;width:40px;height:40px;" viewBox="0 0 7 7"><g fill="none" stroke="#f5593d" stroke-width="0.62" stroke-linecap="round" stroke-linejoin="round"><path d="M4.8 1.5 A2 2 0 0 0 2 3 A1.4 1.4 0 0 0 4.8 3.5 A1.2 1.2 0 0 0 2.6 3.6 M2 3 V5 A1.5 1.5 0 0 0 5 5 A1.2 1.2 0 0 0 3 4.9"/></g></svg>
<span class="t" style="top:778.92px;font-size:21.6px;color:#1e2235;font-weight:700;letter-spacing:1.16px;left:2583.6px;">Pediatrics</span>
<span class="t" style="top:813.6px;font-size:19.6px;color:#949bbf;letter-spacing:1.4px;left:2583.6px;">96 Avaialable</span>
<div class="b" style="left:2817.6px;top:740px;width:326.8px;height:132px;background:#e2f7e9;border-radius:7.2px;"></div>
<div class="b" style="left:2845.2px;top:767.6px;width:77.6px;height:77.6px;background:#ffffff;border-radius:40px;border:1.8px solid #16c24e44;box-sizing:border-box;"></div>
<svg class="b" style="left:2864px;top:786.4px;width:40px;height:40px;" viewBox="0 0 7 7"><g fill="none" stroke="#16c24e" stroke-width="0.62" stroke-linecap="round" stroke-linejoin="round"><path d="M2.4 3.8 L3.8 2.4 M3.9 2.3 A0.8 0.8 0 1 1 5.2 1.3 A0.8 0.8 0 1 1 4.7 3.1 L3.1 4.7 A0.8 0.8 0 1 1 1.8 5.7 A0.8 0.8 0 1 1 2.3 3.9 Z"/></g></svg>
<span class="t" style="top:778.92px;font-size:21.6px;color:#1e2235;font-weight:700;letter-spacing:1.48px;left:2951.2px;">Orthopedic</span>
<span class="t" style="top:813.6px;font-size:19.6px;color:#949bbf;letter-spacing:0.94px;left:2951.2px;">134 Avaialable</span>
<div class="b" style="left:427px;top:944.8px;width:656.8px;height:802.8px;background:#ffffff;border-radius:8.8px;box-shadow:0 2.4px 7.2px rgba(30,40,90,0.07);"></div>
<div class="b" style="left:440.8px;top:958.8px;width:629.6px;height:774px;background:linear-gradient(180deg,#fbeffc 0%,#f7effd 55%,#f3f0fe 100%);border-radius:7.2px;"></div>
<div class="b" style="left:484.8px;top:1000px;width:80.8px;height:81.6px;background:#ebe6fc;border-radius:6px;border:2px solid #dcd5fa;box-sizing:border-box;"></div>
<svg class="b" style="left:506.8px;top:1022.4px;width:36.8px;height:36.8px;" viewBox="0 0 7.4 7.4"><g fill="none" stroke="#7b6cf6" stroke-width="0.65" stroke-linecap="round" stroke-linejoin="round"><circle cx="3.7" cy="1.8" r="1.2"/><path d="M1.2 6.8 V5.6 Q1.2 3.9 3.7 3.9 Q6.2 3.9 6.2 5.6 V6.8 M2.6 4.1 V5.2 M4.8 4.1 V4.9 Q5.4 5.1 5.4 5.8"/></g></svg>
<span class="t" style="top:1007.8px;font-size:22.8px;color:#3a3f55;letter-spacing:0.62px;left:586.4px;">Total Patiants Overview</span>
<span class="t" style="top:1046.72px;font-size:35.2px;color:#1e2235;font-weight:700;letter-spacing:-1.13px;left:585.6px;">1,24,565</span>
<div class="b" style="left:942px;top:1002px;width:85.2px;height:30px;background:#d6f3e1;border-radius:5.6px;"></div>
<span class="t" style="top:1009.72px;font-size:16px;color:#27b565;letter-spacing:0.2px;left:584.6px;width:800px;text-align:center;">+12,754</span>
<svg class="b" style="left:0px;top:0px;width:3200px;height:2400px" viewBox="0 0 800 600"><path d="M122.5 349.1 L130.75 349.1 C133.12 349.1 134.03 334.1 136.4 334.1 L145.75 334.1 C148.12 334.1 149.03 364.9 151.4 364.9 L160 364.9 C162.35 364.9 163.25 349.1 165.6 349.1 L175 349.1 C177.81 349.1 178.89 303 181.7 303 L190 303 C192.81 303 193.89 334.1 196.7 334.1 C199.35 334.1 200.35 318 203 318 L211.4 318 C214.17 318 215.23 295.1 218 295.1 L227.5 295.1 C230.31 295.1 231.39 318 234.2 318 L242.5 318 C244.81 318 245.69 341.6 248 341.6 L254.9 341.6" fill="none" stroke="#7b6cf6" stroke-width="1.0" stroke-linejoin="round"/></svg>
<span class="t" style="top:1547.4px;font-size:20px;color:#9ca2bc;letter-spacing:0.4px;left:475px;">Sun</span>
<span class="t" style="top:1547.4px;font-size:20px;color:#9ca2bc;letter-spacing:0.4px;left:560px;">Mon</span>
<span class="t" style="top:1547.4px;font-size:20px;color:#9ca2bc;letter-spacing:0.4px;left:650.4px;">Tue</span>
<span class="t" style="top:1547.4px;font-size:20px;color:#9ca2bc;letter-spacing:0.4px;left:736px;">Wed</span>
<span class="t" style="top:1547.4px;font-size:20px;color:#9ca2bc;letter-spacing:0.4px;left:827.6px;">Thu</span>
<span class="t" style="top:1547.4px;font-size:20px;color:#9ca2bc;letter-spacing:0.4px;left:920px;">Fri</span>
<span class="t" style="top:1547.4px;font-size:20px;color:#9ca2bc;letter-spacing:0.4px;left:1006px;">Sat</span>
<div class="b" style="left:532px;top:1533.2px;width:30.4px;height:9.6px;background:#ffffff;border-radius:4.8px;"></div>
<div class="b" style="left:470.4px;top:1608px;width:570px;height:93px;background:#ffffff;border-radius:8px;"></div>
<span class="t" style="top:1643px;font-size:22.8px;color:#3a3f55;letter-spacing:0.82px;left:499px;">Old Patients -</span>
<span class="t" style="top:1637.28px;font-size:33.6px;color:#1e2235;letter-spacing:2.21px;left:663.2px;-webkit-text-stroke:0.8px #1e2235;">86k</span>
<div class="b" style="left:752.4px;top:1632px;width:2px;height:44px;background:#eceef4;"></div>
<span class="t" style="top:1643px;font-size:22.8px;color:#3a3f55;letter-spacing:0.75px;left:775.2px;">New Patients -</span>
<span class="t" style="top:1637.28px;font-size:33.6px;color:#1e2235;letter-spacing:-0.99px;left:949.2px;-webkit-text-stroke:0.8px #1e2235;">18k</span>
<div class="b" style="left:1125px;top:944.8px;width:1117.6px;height:802.8px;background:#ffffff;border-radius:8.8px;box-shadow:0 2.4px 7.2px rgba(30,40,90,0.07);"></div>
<span class="t" style="top:981.4px;font-size:30.4px;color:#1e2235;letter-spacing:1.34px;left:1158px;-webkit-text-stroke:0.6px #1e2235;">Patient Statistics</span>
<div class="b" style="left:1881px;top:972px;width:330px;height:55.6px;background:#eceafd;border-radius:6.4px;"></div>
<div class="b" style="left:1881px;top:972px;width:64px;height:55.6px;background:#7b6cf6;border-radius:6.4px 0 0 6.4px;"></div>
<span class="t" style="top:990.4px;font-size:19.6px;color:#ffffff;left:1513.6px;width:800px;text-align:center;">1D</span>
<span class="t" style="top:990.4px;font-size:19.6px;color:#8479f6;left:1579px;width:800px;text-align:center;">1W</span>
<span class="t" style="top:990.4px;font-size:19.6px;color:#8479f6;left:1645.6px;width:800px;text-align:center;">1M</span>
<span class="t" style="top:990.4px;font-size:19.6px;color:#8479f6;left:1713px;width:800px;text-align:center;">6M</span>
<span class="t" style="top:990.4px;font-size:19.6px;color:#8479f6;left:1779px;width:800px;text-align:center;">1Y</span>
<div class="b" style="left:2012.2px;top:972px;width:1.6px;height:55.6px;background:#e0dcfb;"></div>
<div class="b" style="left:2077.2px;top:972px;width:1.6px;height:55.6px;background:#e0dcfb;"></div>
<div class="b" style="left:2147.2px;top:972px;width:1.6px;height:55.6px;background:#e0dcfb;"></div>
<div class="b" style="left:1531.6px;top:1087.6px;width:19.6px;height:18.4px;background:#7b6cf6;border-radius:2px;"></div>
<span class="t" style="top:1087.28px;font-size:18.8px;color:#3a3f55;letter-spacing:0.89px;left:1564.4px;">This Year</span>
<div class="b" style="left:1671px;top:1087.6px;width:19.6px;height:18.4px;background:#c9c9c9;border-radius:2px;"></div>
<span class="t" style="top:1087.28px;font-size:18.8px;color:#3a3f55;letter-spacing:1.02px;left:1702.4px;">Last Year</span>
<svg class="b" style="left:0px;top:0px;width:3200px;height:2400px" viewBox="0 0 800 600"><path d="M299.25 292 V416" stroke="#e4e6ee" stroke-width="0.4" stroke-dasharray="0.8 1.3"/><path d="M318.00 292 V416" stroke="#e4e6ee" stroke-width="0.4" stroke-dasharray="0.8 1.3"/><path d="M336.75 292 V416" stroke="#e4e6ee" stroke-width="0.4" stroke-dasharray="0.8 1.3"/><path d="M355.50 292 V416" stroke="#e4e6ee" stroke-width="0.4" stroke-dasharray="0.8 1.3"/><path d="M374.25 292 V416" stroke="#e4e6ee" stroke-width="0.4" stroke-dasharray="0.8 1.3"/><path d="M393.00 292 V416" stroke="#e4e6ee" stroke-width="0.4" stroke-dasharray="0.8 1.3"/><path d="M411.75 292 V416" stroke="#e4e6ee" stroke-width="0.4" stroke-dasharray="0.8 1.3"/><path d="M430.50 292 V416" stroke="#e4e6ee" stroke-width="0.4" stroke-dasharray="0.8 1.3"/><path d="M449.25 292 V416" stroke="#e4e6ee" stroke-width="0.4" stroke-dasharray="0.8 1.3"/><path d="M468.00 292 V416" stroke="#e4e6ee" stroke-width="0.4" stroke-dasharray="0.8 1.3"/><path d="M486.75 292 V416" stroke="#e4e6ee" stroke-width="0.4" stroke-dasharray="0.8 1.3"/><path d="M505.50 292 V416" stroke="#e4e6ee" stroke-width="0.4" stroke-dasharray="0.8 1.3"/><path d="M524.25 292 V416" stroke="#e4e6ee" stroke-width="0.4" stroke-dasharray="0.8 1.3"/><path d="M543.00 292 V416" stroke="#e4e6ee" stroke-width="0.4" stroke-dasharray="0.8 1.3"/><rect x="306.35" y="312.75" width="3.8" height="37.85" rx="1.9" fill="#7b6cf6"/><rect x="306.35" y="354.6" width="3.8" height="30.90" rx="1.9" fill="#cbcbcb"/><rect x="325.13" y="320.25" width="3.8" height="30.35" rx="1.9" fill="#7b6cf6"/><rect x="325.13" y="354.6" width="3.8" height="25.30" rx="1.9" fill="#cbcbcb"/><rect x="343.91" y="334.10" width="3.8" height="18.30" rx="1.9" fill="#7b6cf6"/><rect x="343.91" y="354.6" width="3.8" height="12.90" rx="1.9" fill="#cbcbcb"/><rect x="362.69" y="315.75" width="3.8" height="34.85" rx="1.9" fill="#7b6cf6"/><rect x="362.69" y="354.6" width="3.8" height="27.90" rx="1.9" fill="#cbcbcb"/><rect x="381.47" y="338.60" width="3.8" height="13.80" rx="1.9" fill="#7b6cf6"/><rect x="381.47" y="354.6" width="3.8" height="16.65" rx="1.9" fill="#cbcbcb"/><rect x="400.25" y="315.75" width="3.8" height="34.85" rx="1.9" fill="#7b6cf6"/><rect x="400.25" y="354.6" width="3.8" height="29.40" rx="1.9" fill="#cbcbcb"/><rect x="419.03" y="335.60" width="3.8" height="16.80" rx="1.9" fill="#7b6cf6"/><rect x="419.03" y="354.6" width="3.8" height="14.00" rx="1.9" fill="#cbcbcb"/><rect x="437.81" y="335.60" width="3.8" height="16.80" rx="1.9" fill="#7b6cf6"/><rect x="437.81" y="354.6" width="3.8" height="30.90" rx="1.9" fill="#cbcbcb"/><rect x="456.59" y="312.75" width="3.8" height="37.85" rx="1.9" fill="#7b6cf6"/><rect x="456.59" y="354.6" width="3.8" height="37.65" rx="1.9" fill="#cbcbcb"/><rect x="475.37" y="338.60" width="3.8" height="13.80" rx="1.9" fill="#7b6cf6"/><rect x="475.37" y="354.6" width="3.8" height="14.00" rx="1.9" fill="#cbcbcb"/><rect x="494.15" y="298.90" width="3.8" height="51.70" rx="1.9" fill="#7b6cf6"/><rect x="494.15" y="354.6" width="3.8" height="33.50" rx="1.9" fill="#cbcbcb"/><rect x="512.93" y="321.75" width="3.8" height="28.85" rx="1.9" fill="#7b6cf6"/><rect x="512.93" y="354.6" width="3.8" height="19.65" rx="1.9" fill="#cbcbcb"/><rect x="531.71" y="304.90" width="3.8" height="45.70" rx="1.9" fill="#7b6cf6"/><rect x="531.71" y="354.6" width="3.8" height="26.80" rx="1.9" fill="#cbcbcb"/></svg>
<span class="t" style="top:1162.08px;font-size:18.8px;color:#7d82ab;right:2017.6px;">4</span>
<span class="t" style="top:1283.52px;font-size:18.8px;color:#7d82ab;right:2017.6px;">2</span>
<span class="t" style="top:1404.92px;font-size:18.8px;color:#7d82ab;right:2017.6px;">0</span>
<span class="t" style="top:1528.08px;font-size:18.8px;color:#7d82ab;right:2017.6px;">-2</span>
<span class="t" style="top:1650.92px;font-size:18.8px;color:#7d82ab;right:2017.6px;">-4</span>
<span class="t" style="top:1685.68px;font-size:18.8px;color:#7d82ab;letter-spacing:0.32px;left:833px;width:800px;text-align:center;">Mon</span>
<span class="t" style="top:1685.68px;font-size:18.8px;color:#7d82ab;letter-spacing:0.32px;left:983.24px;width:800px;text-align:center;">Tue</span>
<span class="t" style="top:1685.68px;font-size:18.8px;color:#7d82ab;letter-spacing:0.32px;left:1133.48px;width:800px;text-align:center;">Wed</span>
<span class="t" style="top:1685.68px;font-size:18.8px;color:#7d82ab;letter-spacing:0.32px;left:1283.72px;width:800px;text-align:center;">Thu</span>
<span class="t" style="top:1685.68px;font-size:18.8px;color:#7d82ab;letter-spacing:0.32px;left:1433.96px;width:800px;text-align:center;">Fri</span>
<span class="t" style="top:1685.68px;font-size:18.8px;color:#7d82ab;letter-spacing:0.32px;left:1584.2px;width:800px;text-align:center;">Sat</span>
<span class="t" style="top:1685.68px;font-size:18.8px;color:#7d82ab;letter-spacing:0.32px;left:1734.44px;width:800px;text-align:center;">Sun</span>
<div class="b" style="left:2285px;top:944.8px;width:888.4px;height:800.8px;background:#ffffff;border-radius:8.8px;box-shadow:0 2.4px 7.2px rgba(30,40,90,0.07);"></div>
<span class="t" style="top:977px;font-size:30.4px;color:#1e2235;letter-spacing:1.59px;left:2319.6px;-webkit-text-stroke:0.6px #1e2235;">Appointments History</span>
<span class="t" style="top:984.4px;font-size:19.6px;color:#8c92ad;letter-spacing:0.76px;left:3033.6px;">View All</span>
<svg class="b" style="left:3121.6px;top:987.6px;width:17.6px;height:14.4px;" viewBox="0 0 4.4 3.6"><path d="M0.5 1.8 H3.6 M2.5 0.7 L3.6 1.8 L2.5 2.9" fill="none" stroke="#8c92ad" stroke-width="0.5" stroke-linecap="round" stroke-linejoin="round"/></svg>
<div class="b" style="left:2285px;top:1045.6px;width:888.4px;height:139.6px;background:#f6f7fb;"></div>
<div class="b" style="left:2304.4px;top:1095px;width:48px;height:48px;background:#ffffff;border-radius:24px;"></div>
<svg class="b" style="left:2321.6px;top:1110.4px;width:13.6px;height:17.6px;" viewBox="0 0 3.4 4.4"><path d="M2.3 0.9 L1 2.2 L2.3 3.5" fill="none" stroke="#262a3f" stroke-width="0.9" stroke-linecap="round" stroke-linejoin="round"/></svg>
<div class="b" style="left:3107px;top:1095px;width:48px;height:48px;background:#ffffff;border-radius:24px;"></div>
<svg class="b" style="left:3125.2px;top:1110.4px;width:13.6px;height:17.6px;" viewBox="0 0 3.4 4.4"><path d="M1.1 0.9 L2.4 2.2 L1.1 3.5" fill="none" stroke="#262a3f" stroke-width="0.7" stroke-linecap="round" stroke-linejoin="round"/></svg>
<div class="b" style="left:2372px;top:1065px;width:104px;height:102px;background:#ffffff;border-radius:6.4px;"></div>
<span class="t" style="top:1082.28px;font-size:36px;color:#1e2235;left:2024.4px;width:800px;text-align:center;-webkit-text-stroke:0.8px #1e2235;">1</span>
<span class="t" style="top:1128.2px;font-size:22.8px;color:#9399b5;letter-spacing:0.4px;left:2024.4px;width:800px;text-align:center;">Sun</span>
<div class="b" style="left:2492.6px;top:1065px;width:104px;height:102px;background:#ffffff;border-radius:6.4px;"></div>
<span class="t" style="top:1082.28px;font-size:36px;color:#1e2235;left:2145px;width:800px;text-align:center;-webkit-text-stroke:0.8px #1e2235;">2</span>
<span class="t" style="top:1128.2px;font-size:22.8px;color:#9399b5;letter-spacing:0.4px;left:2145px;width:800px;text-align:center;">Mon</span>
<div class="b" style="left:2613.2px;top:1065px;width:104px;height:102px;background:#ffffff;border-radius:6.4px;"></div>
<span class="t" style="top:1082.28px;font-size:36px;color:#1e2235;left:2265.6px;width:800px;text-align:center;-webkit-text-stroke:0.8px #1e2235;">3</span>
<span class="t" style="top:1128.2px;font-size:22.8px;color:#9399b5;letter-spacing:0.4px;left:2265.6px;width:800px;text-align:center;">Wed</span>
<div class="b" style="left:2733.8px;top:1065px;width:106.4px;height:102px;background:#eceafd;border-radius:6.4px;border:2px solid #cfc9fa;box-sizing:border-box;"></div>
<span class="t" style="top:1082.28px;font-size:36px;color:#8f84f5;left:2386.2px;width:800px;text-align:center;">4</span>
<span class="t" style="top:1128.2px;font-size:22.8px;color:#a196f7;letter-spacing:0.4px;left:2386.2px;width:800px;text-align:center;">Thu</span>
<div class="b" style="left:2854.4px;top:1065px;width:104px;height:102px;background:#ffffff;border-radius:6.4px;"></div>
<span class="t" style="top:1082.28px;font-size:36px;color:#1e2235;left:2506.8px;width:800px;text-align:center;-webkit-text-stroke:0.8px #1e2235;">5</span>
<span class="t" style="top:1128.2px;font-size:22.8px;color:#9399b5;letter-spacing:0.4px;left:2506.8px;width:800px;text-align:center;">Fri</span>
<div class="b" style="left:2975px;top:1065px;width:104px;height:102px;background:#ffffff;border-radius:6.4px;"></div>
<span class="t" style="top:1082.28px;font-size:36px;color:#1e2235;left:2627.4px;width:800px;text-align:center;-webkit-text-stroke:0.8px #1e2235;">6</span>
<span class="t" style="top:1128.2px;font-size:22.8px;color:#9399b5;letter-spacing:0.4px;left:2627.4px;width:800px;text-align:center;">Sat</span>
<svg class="b" style="left:2315.6px;top:1206.8px;width:68px;height:68px" viewBox="0 0 17 17"><defs><clipPath id="av1"><circle cx="8.5" cy="8.5" r="8.5"/></clipPath></defs><g clip-path="url(#av1)"><rect width="17" height="17" fill="#e8d7d5"/>
<path d="M4.4 17 V9.4 Q4.4 7.2 6.6 6.9 H9.8 Q12.2 7.2 12.2 9.4 V17 Z" fill="#f6f6f8"/>
<path d="M7.4 6.9 L8.2 9.4 L9 6.9 Z" fill="#d9dbe2"/>
<path d="M4.9 12.2 L8.3 11.3 L11.9 12.2 V13.6 L8.3 14.4 L4.9 13.6 Z" fill="#e3c2b0"/>
<rect x="9.8" y="12" width="1.1" height="1.5" fill="#3a3030"/>
<rect x="7.5" y="5.4" width="1.5" height="1.8" fill="#d9a98e"/>
<ellipse cx="8.2" cy="4.3" rx="1.55" ry="1.9" fill="#e4b69b"/>
<path d="M6.6 4.2 Q6.4 2 8.2 2 Q10 2 9.8 4.2 Q9.2 3 8.2 3.1 Q7.2 3 6.6 4.2 Z" fill="#30231f"/></g></svg>
<span class="t" style="top:1214.72px;font-size:22px;color:#1e2235;font-weight:700;letter-spacing:-0.08px;left:2396px;">John Doe</span>
<span class="t" style="top:1246.08px;font-size:20.8px;color:#949bbf;letter-spacing:0.36px;left:2396px;">Male,32Yrs</span>
<div class="b" style="left:2702px;top:1226.8px;width:157.6px;height:30px;background:#eeecfd;border-radius:4.8px;"></div>
<span class="t" style="top:1234.8px;font-size:14.8px;color:#8f84f5;font-weight:700;letter-spacing:0.9px;left:2380.8px;width:800px;text-align:center;">General Checkup</span>
<span class="t" style="top:1230.72px;font-size:22px;color:#262a3f;letter-spacing:0.08px;left:2997.6px;">10:00 AM</span>
<div class="b" style="left:2285px;top:1297.6px;width:888.4px;height:2px;background:#eef0f5;"></div>
<svg class="b" style="left:2315.6px;top:1319.2px;width:68px;height:68px" viewBox="0 0 17 17"><defs><clipPath id="av2"><circle cx="8.5" cy="8.5" r="8.5"/></clipPath></defs><g clip-path="url(#av2)"><rect width="17" height="17" fill="#c5cccb"/><rect x="0" y="0" width="6" height="17" fill="#b4bdbb"/>
<path d="M5.8 17 V9 Q5.8 7.4 7.4 7.2 H9.8 Q11.4 7.4 11.4 9 V17 Z" fill="#f5f6f7"/>
<path d="M8.3 7.4 H8.9 V13 H8.3 Z" fill="#8b2b2b"/>
<rect x="7.9" y="5.8" width="1.4" height="1.6" fill="#d6a68b"/>
<ellipse cx="8.6" cy="4.4" rx="1.6" ry="1.9" fill="#e0b196"/>
<path d="M6.9 4.4 Q6.8 2.2 8.6 2.2 Q10.4 2.2 10.3 4.4 Q9.6 3.2 8.6 3.3 Q7.6 3.2 6.9 4.4 Z" fill="#5b4033"/></g></svg>
<span class="t" style="top:1327.12px;font-size:22px;color:#1e2235;font-weight:700;letter-spacing:0px;left:2396px;">Sarah Smith</span>
<span class="t" style="top:1358.48px;font-size:20.8px;color:#949bbf;letter-spacing:0.41px;left:2396px;">Female,45Yrs</span>
<div class="b" style="left:2702px;top:1339.2px;width:123px;height:30px;background:#fde6e6;border-radius:4.8px;"></div>
<span class="t" style="top:1347.2px;font-size:14.8px;color:#ef4a4a;font-weight:700;letter-spacing:0.92px;left:2363.52px;width:800px;text-align:center;">Dermatology</span>
<span class="t" style="top:1343.12px;font-size:22px;color:#262a3f;letter-spacing:0.08px;left:2997.6px;">10:30 AM</span>
<div class="b" style="left:2285px;top:1410px;width:888.4px;height:2px;background:#eef0f5;"></div>
<svg class="b" style="left:2315.6px;top:1431.6px;width:68px;height:68px" viewBox="0 0 17 17"><defs><clipPath id="av3"><circle cx="8.5" cy="8.5" r="8.5"/></clipPath></defs><g clip-path="url(#av3)"><rect width="17" height="17" fill="#e3e6e9"/>
<path d="M2.6 17 V12.6 Q2.6 10.2 5.4 9.8 H11.4 Q14.2 10.2 14.2 12.6 V17 Z" fill="#f6f7f9"/>
<path d="M6.8 9.8 L8.4 12.4 L10 9.8 Z" fill="#6d9ad6"/>
<path d="M5.2 13 H7 V17 H5.2 Z" fill="#9db7e2"/>
<rect x="7.3" y="7.6" width="2.2" height="2.4" fill="#c99a7e"/>
<ellipse cx="8.4" cy="5.8" rx="2.4" ry="2.9" fill="#dcae92"/>
<path d="M6 6 Q6.2 9 8.4 9 Q10.6 9 10.8 6 Q10 7.4 8.4 7.4 Q6.8 7.4 6 6 Z" fill="#2c2523"/>
<path d="M5.9 5.6 Q5.6 2.4 8.4 2.4 Q11.2 2.4 10.9 5.6 Q10.2 3.8 8.4 3.9 Q6.6 3.8 5.9 5.6 Z" fill="#1f1a19"/></g></svg>
<span class="t" style="top:1439.52px;font-size:22px;color:#1e2235;font-weight:700;letter-spacing:0px;left:2396px;">Mark Johnson</span>
<span class="t" style="top:1470.88px;font-size:20.8px;color:#949bbf;letter-spacing:0.36px;left:2396px;">Male,29Yrs</span>
<div class="b" style="left:2702px;top:1451.6px;width:108px;height:30px;background:#fff3dc;border-radius:4.8px;"></div>
<span class="t" style="top:1459.6px;font-size:14.8px;color:#f5a623;font-weight:700;letter-spacing:0.83px;left:2356px;width:800px;text-align:center;">Cardiology</span>
<span class="t" style="top:1455.52px;font-size:22px;color:#262a3f;letter-spacing:0.28px;left:2997.6px;">11:00 AM</span>
<div class="b" style="left:2285px;top:1522.4px;width:888.4px;height:2px;background:#eef0f5;"></div>
<svg class="b" style="left:2315.6px;top:1544px;width:68px;height:68px" viewBox="0 0 17 17"><defs><clipPath id="av4"><circle cx="8.5" cy="8.5" r="8.5"/></clipPath></defs><g clip-path="url(#av4)"><rect width="17" height="17" fill="#d7356e"/>
<path d="M2.8 17 V13.4 Q2.8 11 5.8 10.6 H11.2 Q14.2 11 14.2 13.4 V17 Z" fill="#f4f3f4"/>
<rect x="7.3" y="8.4" width="2.4" height="2.6" fill="#e2b096"/>
<ellipse cx="8.5" cy="6.4" rx="2.5" ry="3" fill="#efc3a8"/>
<path d="M5.9 6 Q5.7 3 8.5 3 Q11.3 3 11.1 6 Q10.3 4.4 8.5 4.5 Q6.7 4.4 5.9 6 Z" fill="#b98a5c"/></g></svg>
<span class="t" style="top:1551.92px;font-size:22px;color:#1e2235;font-weight:700;letter-spacing:-0.2px;left:2396px;">Emily Clark</span>
<span class="t" style="top:1583.28px;font-size:20.8px;color:#949bbf;letter-spacing:0.41px;left:2396px;">Female,38Yrs</span>
<div class="b" style="left:2702px;top:1564px;width:115.6px;height:30px;background:#dff3fb;border-radius:4.8px;"></div>
<span class="t" style="top:1572px;font-size:14.8px;color:#2ea8e0;font-weight:700;letter-spacing:0.85px;left:2359.8px;width:800px;text-align:center;">Gynecology</span>
<span class="t" style="top:1567.92px;font-size:22px;color:#262a3f;letter-spacing:0.28px;left:2997.6px;">11:30 AM</span>
<div class="b" style="left:2285px;top:1634.8px;width:888.4px;height:2px;background:#eef0f5;"></div>
<svg class="b" style="left:2315.6px;top:1656.4px;width:68px;height:68px" viewBox="0 0 17 17"><defs><clipPath id="av5"><circle cx="8.5" cy="8.5" r="8.5"/></clipPath></defs><g clip-path="url(#av5)"><rect width="17" height="17" fill="#5e3424"/><rect x="0" y="0" width="17" height="6" fill="#7a4a32"/>
<rect x="1" y="3" width="1.4" height="14" fill="#c9a88c"/><rect x="14.6" y="3" width="1.4" height="14" fill="#c9a88c"/>
<path d="M1.6 17 V10.4 Q1.6 9 3.6 9 Q5.4 9 5.4 10.4 V17 Z" fill="#e9e9ec"/><circle cx="3.5" cy="7.2" r="1.5" fill="#d9a98e"/>
<path d="M11.6 17 V10.4 Q11.6 9 13.4 9 Q15.4 9 15.4 10.4 V17 Z" fill="#e9e9ec"/><circle cx="13.5" cy="7.2" r="1.5" fill="#d9a98e"/>
<path d="M5 17 V10.6 Q5 8.8 7 8.6 H10 Q12 8.8 12 10.6 V17 Z" fill="#f7f7f9"/>
<ellipse cx="8.5" cy="6.2" rx="1.9" ry="2.3" fill="#e2b398"/>
<path d="M6.5 6 Q6.4 3.6 8.5 3.6 Q10.6 3.6 10.5 6 Q9.8 4.8 8.5 4.9 Q7.2 4.8 6.5 6 Z" fill="#cfcfd2"/></g></svg>
<span class="t" style="top:1664.32px;font-size:22px;color:#1e2235;font-weight:700;letter-spacing:0.16px;left:2396px;">Lisa White</span>
<span class="t" style="top:1695.72px;font-size:20.8px;color:#949bbf;letter-spacing:0.28px;left:2396px;">Female,27Yrs</span>
<div class="b" style="left:2702px;top:1676.4px;width:100.4px;height:30px;background:#d9f5e4;border-radius:4.8px;"></div>
<span class="t" style="top:1684.4px;font-size:14.8px;color:#22b35f;font-weight:700;letter-spacing:0.72px;left:2352.2px;width:800px;text-align:center;">Pediatrics</span>
<span class="t" style="top:1680.32px;font-size:22px;color:#262a3f;letter-spacing:-0.07px;left:2997.6px;">12:30 PM</span>
<div class="b" style="left:427px;top:1787px;width:655.6px;height:680px;background:#ffffff;border-radius:8.8px;box-shadow:0 2.4px 7.2px rgba(30,40,90,0.07);"></div>
<span class="t" style="top:1815.8px;font-size:30.4px;color:#1e2235;letter-spacing:1.1px;left:460px;-webkit-text-stroke:0.6px #1e2235;">Available Doctors</span>
<div class="b" style="left:457px;top:1892px;width:6px;height:68px;background:#7b6cf6;border-radius:1.6px;"></div>
<span class="t" style="top:1897.8px;font-size:22.8px;color:#1e2235;font-weight:700;letter-spacing:0.17px;left:485.6px;">Dr. John Miller</span>
<span class="t" style="top:1934.72px;font-size:21.2px;color:#7b6cf6;letter-spacing:0.74px;left:485.6px;">Cardiology</span>
<span class="t" id="tm0" style="right:2146.68px;top:1898.2px;font-size:22.4px;color:#8c92ad;letter-spacing:0.14px;"><svg viewBox="0 0 4.6 4.6" style="width:21.6px;height:21.6px;vertical-align:-2.8px;margin-right:5.2px"><circle cx="2.3" cy="2.3" r="1.8" fill="none" stroke="#8c92ad" stroke-width="0.5"/><path d="M2.3 1.3 V2.4 H3.1" fill="none" stroke="#8c92ad" stroke-width="0.45"/></svg>9:00 AM - 12:00 PM</span>
<div class="b" style="left:457px;top:2001.92px;width:6px;height:68px;background:#f5593d;border-radius:1.6px;"></div>
<span class="t" style="top:2007.72px;font-size:22.8px;color:#1e2235;font-weight:700;letter-spacing:0.09px;left:485.6px;">Dr. Sarah Williams</span>
<span class="t" style="top:2044.64px;font-size:21.2px;color:#f5593d;letter-spacing:0.75px;left:485.6px;">Dermatology</span>
<span class="t" id="tm1" style="right:2146.92px;top:2008.12px;font-size:22.4px;color:#8c92ad;letter-spacing:-0.11px;"><svg viewBox="0 0 4.6 4.6" style="width:21.6px;height:21.6px;vertical-align:-2.8px;margin-right:5.2px"><circle cx="2.3" cy="2.3" r="1.8" fill="none" stroke="#8c92ad" stroke-width="0.5"/><path d="M2.3 1.3 V2.4 H3.1" fill="none" stroke="#8c92ad" stroke-width="0.45"/></svg>10:00 AM - 1:00 PM</span>
<div class="b" style="left:457px;top:2111.84px;width:6px;height:68px;background:#fdb22b;border-radius:1.6px;"></div>
<span class="t" style="top:2117.64px;font-size:22.8px;color:#1e2235;font-weight:700;letter-spacing:0.33px;left:485.6px;">Dr. Mark Thompson</span>
<span class="t" style="top:2154.56px;font-size:21.2px;color:#fdb22b;letter-spacing:0.68px;left:485.6px;">Neurology</span>
<span class="t" id="tm2" style="right:2147.04px;top:2118.04px;font-size:22.4px;color:#8c92ad;letter-spacing:-0.26px;"><svg viewBox="0 0 4.6 4.6" style="width:21.6px;height:21.6px;vertical-align:-2.8px;margin-right:5.2px"><circle cx="2.3" cy="2.3" r="1.8" fill="none" stroke="#8c92ad" stroke-width="0.5"/><path d="M2.3 1.3 V2.4 H3.1" fill="none" stroke="#8c92ad" stroke-width="0.45"/></svg>1:30 PM - 4:30 PM</span>
<div class="b" style="left:457px;top:2221.76px;width:6px;height:68px;background:#16c24e;border-radius:1.6px;"></div>
<span class="t" style="top:2227.56px;font-size:22.8px;color:#1e2235;font-weight:700;letter-spacing:-0.02px;left:485.6px;">Dr. Emily Davis</span>
<span class="t" style="top:2264.48px;font-size:21.2px;color:#16c24e;letter-spacing:0.88px;left:485.6px;">Gynecology</span>
<span class="t" id="tm3" style="right:2146.76px;top:2227.96px;font-size:22.4px;color:#8c92ad;letter-spacing:0.04px;"><svg viewBox="0 0 4.6 4.6" style="width:21.6px;height:21.6px;vertical-align:-2.8px;margin-right:5.2px"><circle cx="2.3" cy="2.3" r="1.8" fill="none" stroke="#8c92ad" stroke-width="0.5"/><path d="M2.3 1.3 V2.4 H3.1" fill="none" stroke="#8c92ad" stroke-width="0.45"/></svg>9:30 AM - 12:30 PM</span>
<div class="b" style="left:457px;top:2331.68px;width:6px;height:68px;background:#2ea8e8;border-radius:1.6px;"></div>
<span class="t" style="top:2337.48px;font-size:22.8px;color:#1e2235;font-weight:700;letter-spacing:0.14px;left:485.6px;">Dr. James Clark</span>
<span class="t" style="top:2374.4px;font-size:21.2px;color:#2ea8e8;letter-spacing:1.14px;left:485.6px;">Orthopedics</span>
<span class="t" id="tm4" style="right:2146.92px;top:2337.88px;font-size:22.4px;color:#8c92ad;letter-spacing:-0.11px;"><svg viewBox="0 0 4.6 4.6" style="width:21.6px;height:21.6px;vertical-align:-2.8px;margin-right:5.2px"><circle cx="2.3" cy="2.3" r="1.8" fill="none" stroke="#8c92ad" stroke-width="0.5"/><path d="M2.3 1.3 V2.4 H3.1" fill="none" stroke="#8c92ad" stroke-width="0.45"/></svg>10:00 AM - 1:00 PM</span>
<div class="b" style="left:1125px;top:1787px;width:888px;height:680px;background:#ffffff;border-radius:8.8px;box-shadow:0 2.4px 7.2px rgba(30,40,90,0.07);"></div>
<span class="t" style="top:1815.8px;font-size:30.4px;color:#1e2235;letter-spacing:1.18px;left:1158px;-webkit-text-stroke:0.6px #1e2235;">Top Doctors</span>
<span class="t" style="top:1825.6px;font-size:19.6px;color:#8c92ad;letter-spacing:0.76px;left:1879.6px;">View All</span>
<svg class="b" style="left:1959.2px;top:1828.8px;width:17.6px;height:14.4px;" viewBox="0 0 4.4 3.6"><path d="M0.5 1.8 H3.6 M2.5 0.7 L3.6 1.8 L2.5 2.9" fill="none" stroke="#8c92ad" stroke-width="0.5" stroke-linecap="round" stroke-linejoin="round"/></svg>
<div class="b" style="left:1158px;top:1873.2px;width:822px;height:107.2px;background:#ffffff;border-radius:6.4px;border:2px dashed #e9ebf2;box-sizing:border-box;"></div>
<svg class="b" style="left:1173.6px;top:1891.6px;width:68px;height:68px" viewBox="0 0 17 17"><defs><clipPath id="av6"><circle cx="8.5" cy="8.5" r="8.5"/></clipPath></defs><g clip-path="url(#av6)"><rect width="17" height="17" fill="#e8d7d5"/>
<path d="M4.4 17 V9.4 Q4.4 7.2 6.6 6.9 H9.8 Q12.2 7.2 12.2 9.4 V17 Z" fill="#f6f6f8"/>
<path d="M7.4 6.9 L8.2 9.4 L9 6.9 Z" fill="#d9dbe2"/>
<path d="M4.9 12.2 L8.3 11.3 L11.9 12.2 V13.6 L8.3 14.4 L4.9 13.6 Z" fill="#e3c2b0"/>
<rect x="9.8" y="12" width="1.1" height="1.5" fill="#3a3030"/>
<rect x="7.5" y="5.4" width="1.5" height="1.8" fill="#d9a98e"/>
<ellipse cx="8.2" cy="4.3" rx="1.55" ry="1.9" fill="#e4b69b"/>
<path d="M6.6 4.2 Q6.4 2 8.2 2 Q10 2 9.8 4.2 Q9.2 3 8.2 3.1 Q7.2 3 6.6 4.2 Z" fill="#30231f"/></g></svg>
<span class="t" style="top:1898.2px;font-size:22.8px;color:#1e2235;font-weight:700;letter-spacing:0.17px;left:1267.6px;">Dr. John Miller</span>
<span class="t" style="top:1934.72px;font-size:21.2px;color:#949bbf;letter-spacing:0.87px;left:1267.6px;">Cardiologist</span>
<span class="t" style="top:1898.08px;font-size:22.4px;color:#262a3f;letter-spacing:1.35px;right:1270.4px;">4.9</span>
<svg class="b" style="left:1932px;top:1893.2px;width:26px;height:26px;" viewBox="0 0 5.6 5.6"><path d="M2.8 0.4 L3.55 1.95 L5.25 2.2 L4 3.4 L4.3 5.1 L2.8 4.3 L1.3 5.1 L1.6 3.4 L0.35 2.2 L2.05 1.95 Z" fill="#fdb22b"/></svg>
<span class="t" style="top:1935.2px;font-size:20.4px;color:#949bbf;letter-spacing:0.17px;right:1237.2px;">12+ Years Exp</span>
<div class="b" style="left:1158px;top:2005.4px;width:822px;height:107.2px;background:#ffffff;border-radius:6.4px;border:2px dashed #e9ebf2;box-sizing:border-box;"></div>
<svg class="b" style="left:1173.6px;top:2023.8px;width:68px;height:68px" viewBox="0 0 17 17"><defs><clipPath id="av7"><circle cx="8.5" cy="8.5" r="8.5"/></clipPath></defs><g clip-path="url(#av7)"><rect width="17" height="17" fill="#c5cccb"/><rect x="0" y="0" width="6" height="17" fill="#b4bdbb"/>
<path d="M5.8 17 V9 Q5.8 7.4 7.4 7.2 H9.8 Q11.4 7.4 11.4 9 V17 Z" fill="#f5f6f7"/>
<path d="M8.3 7.4 H8.9 V13 H8.3 Z" fill="#8b2b2b"/>
<rect x="7.9" y="5.8" width="1.4" height="1.6" fill="#d6a68b"/>
<ellipse cx="8.6" cy="4.4" rx="1.6" ry="1.9" fill="#e0b196"/>
<path d="M6.9 4.4 Q6.8 2.2 8.6 2.2 Q10.4 2.2 10.3 4.4 Q9.6 3.2 8.6 3.3 Q7.6 3.2 6.9 4.4 Z" fill="#5b4033"/></g></svg>
<span class="t" style="top:2030.4px;font-size:22.8px;color:#1e2235;font-weight:700;letter-spacing:0.09px;left:1267.6px;">Dr. Sarah Williams</span>
<span class="t" style="top:2066.92px;font-size:21.2px;color:#949bbf;letter-spacing:0.83px;left:1267.6px;">Dermatologist</span>
<span class="t" style="top:2030.28px;font-size:22.4px;color:#262a3f;letter-spacing:1.35px;right:1270.4px;">4.8</span>
<svg class="b" style="left:1932px;top:2025.4px;width:26px;height:26px;" viewBox="0 0 5.6 5.6"><path d="M2.8 0.4 L3.55 1.95 L5.25 2.2 L4 3.4 L4.3 5.1 L2.8 4.3 L1.3 5.1 L1.6 3.4 L0.35 2.2 L2.05 1.95 Z" fill="#fdb22b"/></svg>
<span class="t" style="top:2067.4px;font-size:20.4px;color:#949bbf;letter-spacing:0.39px;right:1237.2px;">10+ Years Exp</span>
<div class="b" style="left:1158px;top:2137.6px;width:822px;height:107.2px;background:#ffffff;border-radius:6.4px;border:2px dashed #e9ebf2;box-sizing:border-box;"></div>
<svg class="b" style="left:1173.6px;top:2156px;width:68px;height:68px" viewBox="0 0 17 17"><defs><clipPath id="av8"><circle cx="8.5" cy="8.5" r="8.5"/></clipPath></defs><g clip-path="url(#av8)"><rect width="17" height="17" fill="#e3e6e9"/>
<path d="M2.6 17 V12.6 Q2.6 10.2 5.4 9.8 H11.4 Q14.2 10.2 14.2 12.6 V17 Z" fill="#f6f7f9"/>
<path d="M6.8 9.8 L8.4 12.4 L10 9.8 Z" fill="#6d9ad6"/>
<path d="M5.2 13 H7 V17 H5.2 Z" fill="#9db7e2"/>
<rect x="7.3" y="7.6" width="2.2" height="2.4" fill="#c99a7e"/>
<ellipse cx="8.4" cy="5.8" rx="2.4" ry="2.9" fill="#dcae92"/>
<path d="M6 6 Q6.2 9 8.4 9 Q10.6 9 10.8 6 Q10 7.4 8.4 7.4 Q6.8 7.4 6 6 Z" fill="#2c2523"/>
<path d="M5.9 5.6 Q5.6 2.4 8.4 2.4 Q11.2 2.4 10.9 5.6 Q10.2 3.8 8.4 3.9 Q6.6 3.8 5.9 5.6 Z" fill="#1f1a19"/></g></svg>
<span class="t" style="top:2162.6px;font-size:22.8px;color:#1e2235;font-weight:700;letter-spacing:0.33px;left:1267.6px;">Dr. Mark Thompson</span>
<span class="t" style="top:2199.08px;font-size:21.2px;color:#949bbf;letter-spacing:0.94px;left:1267.6px;">Neurologist</span>
<span class="t" style="top:2162.48px;font-size:22.4px;color:#262a3f;letter-spacing:1.35px;right:1270.4px;">4.7</span>
<svg class="b" style="left:1932px;top:2157.6px;width:26px;height:26px;" viewBox="0 0 5.6 5.6"><path d="M2.8 0.4 L3.55 1.95 L5.25 2.2 L4 3.4 L4.3 5.1 L2.8 4.3 L1.3 5.1 L1.6 3.4 L0.35 2.2 L2.05 1.95 Z" fill="#fdb22b"/></svg>
<span class="t" style="top:2199.6px;font-size:20.4px;color:#949bbf;letter-spacing:0.26px;right:1237.2px;">15+ Years Exp</span>
<div class="b" style="left:1158px;top:2269.8px;width:822px;height:107.2px;background:#ffffff;border-radius:6.4px;border:2px dashed #e9ebf2;box-sizing:border-box;"></div>
<svg class="b" style="left:1173.6px;top:2288.2px;width:68px;height:68px" viewBox="0 0 17 17"><defs><clipPath id="av9"><circle cx="8.5" cy="8.5" r="8.5"/></clipPath></defs><g clip-path="url(#av9)"><rect width="17" height="17" fill="#2a3036"/>
<path d="M4.8 13 Q4.2 3 8.5 3 Q12.8 3 12.2 13 Z" fill="#17120f"/>
<path d="M3 17 V13.4 Q3 11.2 5.8 10.8 H11.2 Q14 11.2 14 13.4 V17 Z" fill="#19a7a0"/>
<path d="M7.2 10.8 L8.5 12.6 L9.8 10.8 Z" fill="#dcae92"/>
<rect x="7.5" y="8.6" width="2" height="2.4" fill="#d3a386"/>
<ellipse cx="8.5" cy="6.6" rx="2.1" ry="2.7" fill="#e5b99e"/>
<path d="M6.3 6.4 Q6.2 3.8 8.5 3.8 Q10.8 3.8 10.7 6.4 Q9.8 4.8 8.5 5 Q7.2 4.8 6.3 6.4 Z" fill="#17120f"/></g></svg>
<span class="t" style="top:2294.8px;font-size:22.8px;color:#1e2235;font-weight:700;letter-spacing:-0.02px;left:1267.6px;">Dr. Emily Davis</span>
<span class="t" style="top:2331.32px;font-size:21.2px;color:#949bbf;letter-spacing:0.99px;left:1267.6px;">Gynecologist</span>
<span class="t" style="top:2294.72px;font-size:22.4px;color:#262a3f;letter-spacing:1.35px;right:1270.4px;">4.6</span>
<svg class="b" style="left:1932px;top:2289.8px;width:26px;height:26px;" viewBox="0 0 5.6 5.6"><path d="M2.8 0.4 L3.55 1.95 L5.25 2.2 L4 3.4 L4.3 5.1 L2.8 4.3 L1.3 5.1 L1.6 3.4 L0.35 2.2 L2.05 1.95 Z" fill="#fdb22b"/></svg>
<span class="t" style="top:2331.8px;font-size:20.4px;color:#949bbf;letter-spacing:0.63px;right:1237.2px;">9+ Years Exp</span>
<div class="b" style="left:2054px;top:1787px;width:1120.4px;height:680px;background:#ffffff;border-radius:8.8px;box-shadow:0 2.4px 7.2px rgba(30,40,90,0.07);"></div>
<span class="t" style="top:1815.8px;font-size:30.4px;color:#1e2235;letter-spacing:1.34px;left:2087px;-webkit-text-stroke:0.6px #1e2235;">Treatments</span>
<div class="b" style="left:3009.6px;top:1814px;width:130.4px;height:45px;background:#f3f4f9;border-radius:5.6px;"></div>
<span class="t" style="top:1826px;font-size:19.6px;color:#262a3f;letter-spacing:1.12px;left:3024.4px;">View All</span>
<svg class="b" style="left:3106.4px;top:1830px;width:17.6px;height:14.4px;" viewBox="0 0 4.4 3.6"><path d="M0.5 1.8 H3.6 M2.5 0.7 L3.6 1.8 L2.5 2.9" fill="none" stroke="#262a3f" stroke-width="0.5" stroke-linecap="round" stroke-linejoin="round"/></svg>
<div class="b" style="left:2085.6px;top:1892px;width:1058.8px;height:75px;background:#f6f7fb;"></div>
<span class="t" style="top:1920px;font-size:20.4px;color:#262a3f;letter-spacing:2.2px;left:2117px;-webkit-text-stroke:0.48px #262a3f;">Treatment</span>
<span class="t" style="top:1920px;font-size:20.4px;color:#262a3f;letter-spacing:1.72px;left:2679.6px;-webkit-text-stroke:0.48px #262a3f;">Success %</span>
<span class="t" style="top:1920px;font-size:20.4px;color:#262a3f;letter-spacing:2.23px;left:2924px;-webkit-text-stroke:0.48px #262a3f;">Status</span>
<div class="b" style="left:2116.8px;top:1988.6px;width:64.8px;height:64.8px;background:#f0effe;border-radius:36px;"></div>
<svg class="b" style="left:2131.6px;top:2003.4px;width:35.2px;height:35.2px;" viewBox="0 0 7 7"><g fill="none" stroke="#7b6cf6" stroke-width="0.62" stroke-linecap="round" stroke-linejoin="round"><path d="M3.5 6 L1.2 3.7 A1.45 1.45 0 0 1 3.5 1.9 A1.45 1.45 0 0 1 5.8 3.7 Z M1.9 3.6 H2.8 L3.2 2.9 L3.8 4.3 L4.2 3.6 H5.1"/></g></svg>
<span class="t" style="top:1992.72px;font-size:21.6px;color:#1e2235;font-weight:700;letter-spacing:0.2px;left:2210px;">Cardiology</span>
<span class="t" style="top:2026.28px;font-size:20.8px;color:#949bbf;letter-spacing:1.1px;left:2210px;">500+ Patients Treated</span>
<div class="b" style="left:2682.4px;top:2011.8px;width:55.6px;height:24.4px;background:#eeecfd;border-radius:4px;"></div>
<span class="t" style="top:2017.2px;font-size:14.4px;color:#8f84f5;font-weight:700;left:2310.2px;width:800px;text-align:center;">95%</span>
<span class="t" style="top:2012.48px;font-size:22px;color:#262a3f;letter-spacing:0.4px;left:2924px;">3 Sessions</span>
<div class="b" style="left:2085.6px;top:2075.8px;width:1058.8px;height:2px;background:#eef0f5;"></div>
<div class="b" style="left:2116.8px;top:2097.4px;width:64.8px;height:64.8px;background:#fdeae6;border-radius:36px;"></div>
<svg class="b" style="left:2131.6px;top:2112.2px;width:35.2px;height:35.2px;" viewBox="0 0 7 7"><g fill="none" stroke="#f5593d" stroke-width="0.62" stroke-linecap="round" stroke-linejoin="round"><path d="M5.6 1 L6 1.4 M5.8 1.2 L4.6 2.4 M3.4 1.6 L5.4 3.6 M3.9 2.1 L1.7 4.3 V5.3 H2.7 L4.9 3.1 M1.7 5.3 L0.9 6.1"/></g></svg>
<span class="t" style="top:2101.52px;font-size:21.6px;color:#1e2235;font-weight:700;letter-spacing:0.28px;left:2210px;">Immunology</span>
<span class="t" style="top:2135.08px;font-size:20.8px;color:#949bbf;letter-spacing:1.23px;left:2210px;">700+ Vaccinations</span>
<div class="b" style="left:2682.4px;top:2120.6px;width:55.6px;height:24.4px;background:#fde6e2;border-radius:4px;"></div>
<span class="t" style="top:2126px;font-size:14.4px;color:#f5593d;font-weight:700;left:2310.2px;width:800px;text-align:center;">92%</span>
<span class="t" style="top:2121.32px;font-size:22px;color:#262a3f;letter-spacing:0.24px;left:2924px;">1 Follow-up</span>
<div class="b" style="left:2085.6px;top:2184.6px;width:1058.8px;height:2px;background:#eef0f5;"></div>
<div class="b" style="left:2116.8px;top:2206.2px;width:64.8px;height:64.8px;background:#dff6e7;border-radius:36px;"></div>
<svg class="b" style="left:2131.6px;top:2221px;width:35.2px;height:35.2px;" viewBox="0 0 7 7"><g fill="none" stroke="#16c24e" stroke-width="0.62" stroke-linecap="round" stroke-linejoin="round"><path d="M3.5 1.2 V5.8 M3.5 1.6 A1.2 1.2 0 0 0 1.6 2.4 A1.2 1.2 0 0 0 1.4 4.4 A1.2 1.2 0 0 0 3.5 5.4 M3.5 1.6 A1.2 1.2 0 0 1 5.4 2.4 A1.2 1.2 0 0 1 5.6 4.4 A1.2 1.2 0 0 1 3.5 5.4 M2.2 3.5 H3.5 M3.5 3 H4.8"/></g></svg>
<span class="t" style="top:2210.28px;font-size:21.6px;color:#1e2235;font-weight:700;letter-spacing:0.22px;left:2210px;">Neurology</span>
<span class="t" style="top:2243.88px;font-size:20.8px;color:#949bbf;letter-spacing:0.82px;left:2210px;">300+ Brain Surgeries</span>
<div class="b" style="left:2682.4px;top:2229.4px;width:55.6px;height:24.4px;background:#fde0e0;border-radius:4px;"></div>
<span class="t" style="top:2234.8px;font-size:14.4px;color:#ef4a4a;font-weight:700;left:2310.2px;width:800px;text-align:center;">88%</span>
<span class="t" style="top:2230.08px;font-size:22px;color:#262a3f;letter-spacing:0.4px;left:2924px;">4 Sessions</span>
<div class="b" style="left:2085.6px;top:2293.4px;width:1058.8px;height:2px;background:#eef0f5;"></div>
<div class="b" style="left:2116.8px;top:2315px;width:64.8px;height:64.8px;background:#fff3dc;border-radius:36px;"></div>
<svg class="b" style="left:2131.6px;top:2329.8px;width:35.2px;height:35.2px;" viewBox="0 0 7 7"><g fill="none" stroke="#fdb22b" stroke-width="0.62" stroke-linecap="round" stroke-linejoin="round"><circle cx="3.5" cy="3.5" r="2.6"/><path d="M2.5 4.1 Q3.5 5 4.5 4.1 M2.6 2.8 V2.9 M4.4 2.8 V2.9"/></g></svg>
<span class="t" style="top:2319.08px;font-size:21.6px;color:#1e2235;font-weight:700;letter-spacing:0.4px;left:2210px;">Pediatrics</span>
<span class="t" style="top:2352.68px;font-size:20.8px;color:#949bbf;letter-spacing:0.78px;left:2210px;">1,000+ Pediatric Patients</span>
<div class="b" style="left:2682.4px;top:2338.2px;width:55.6px;height:24.4px;background:#fff3dc;border-radius:4px;"></div>
<span class="t" style="top:2343.6px;font-size:14.4px;color:#f5a623;font-weight:700;left:2310.2px;width:800px;text-align:center;">95%</span>
<span class="t" style="top:2338.92px;font-size:22px;color:#262a3f;letter-spacing:0.4px;left:2924px;">2 Sessions</span>
</div></body></html>
